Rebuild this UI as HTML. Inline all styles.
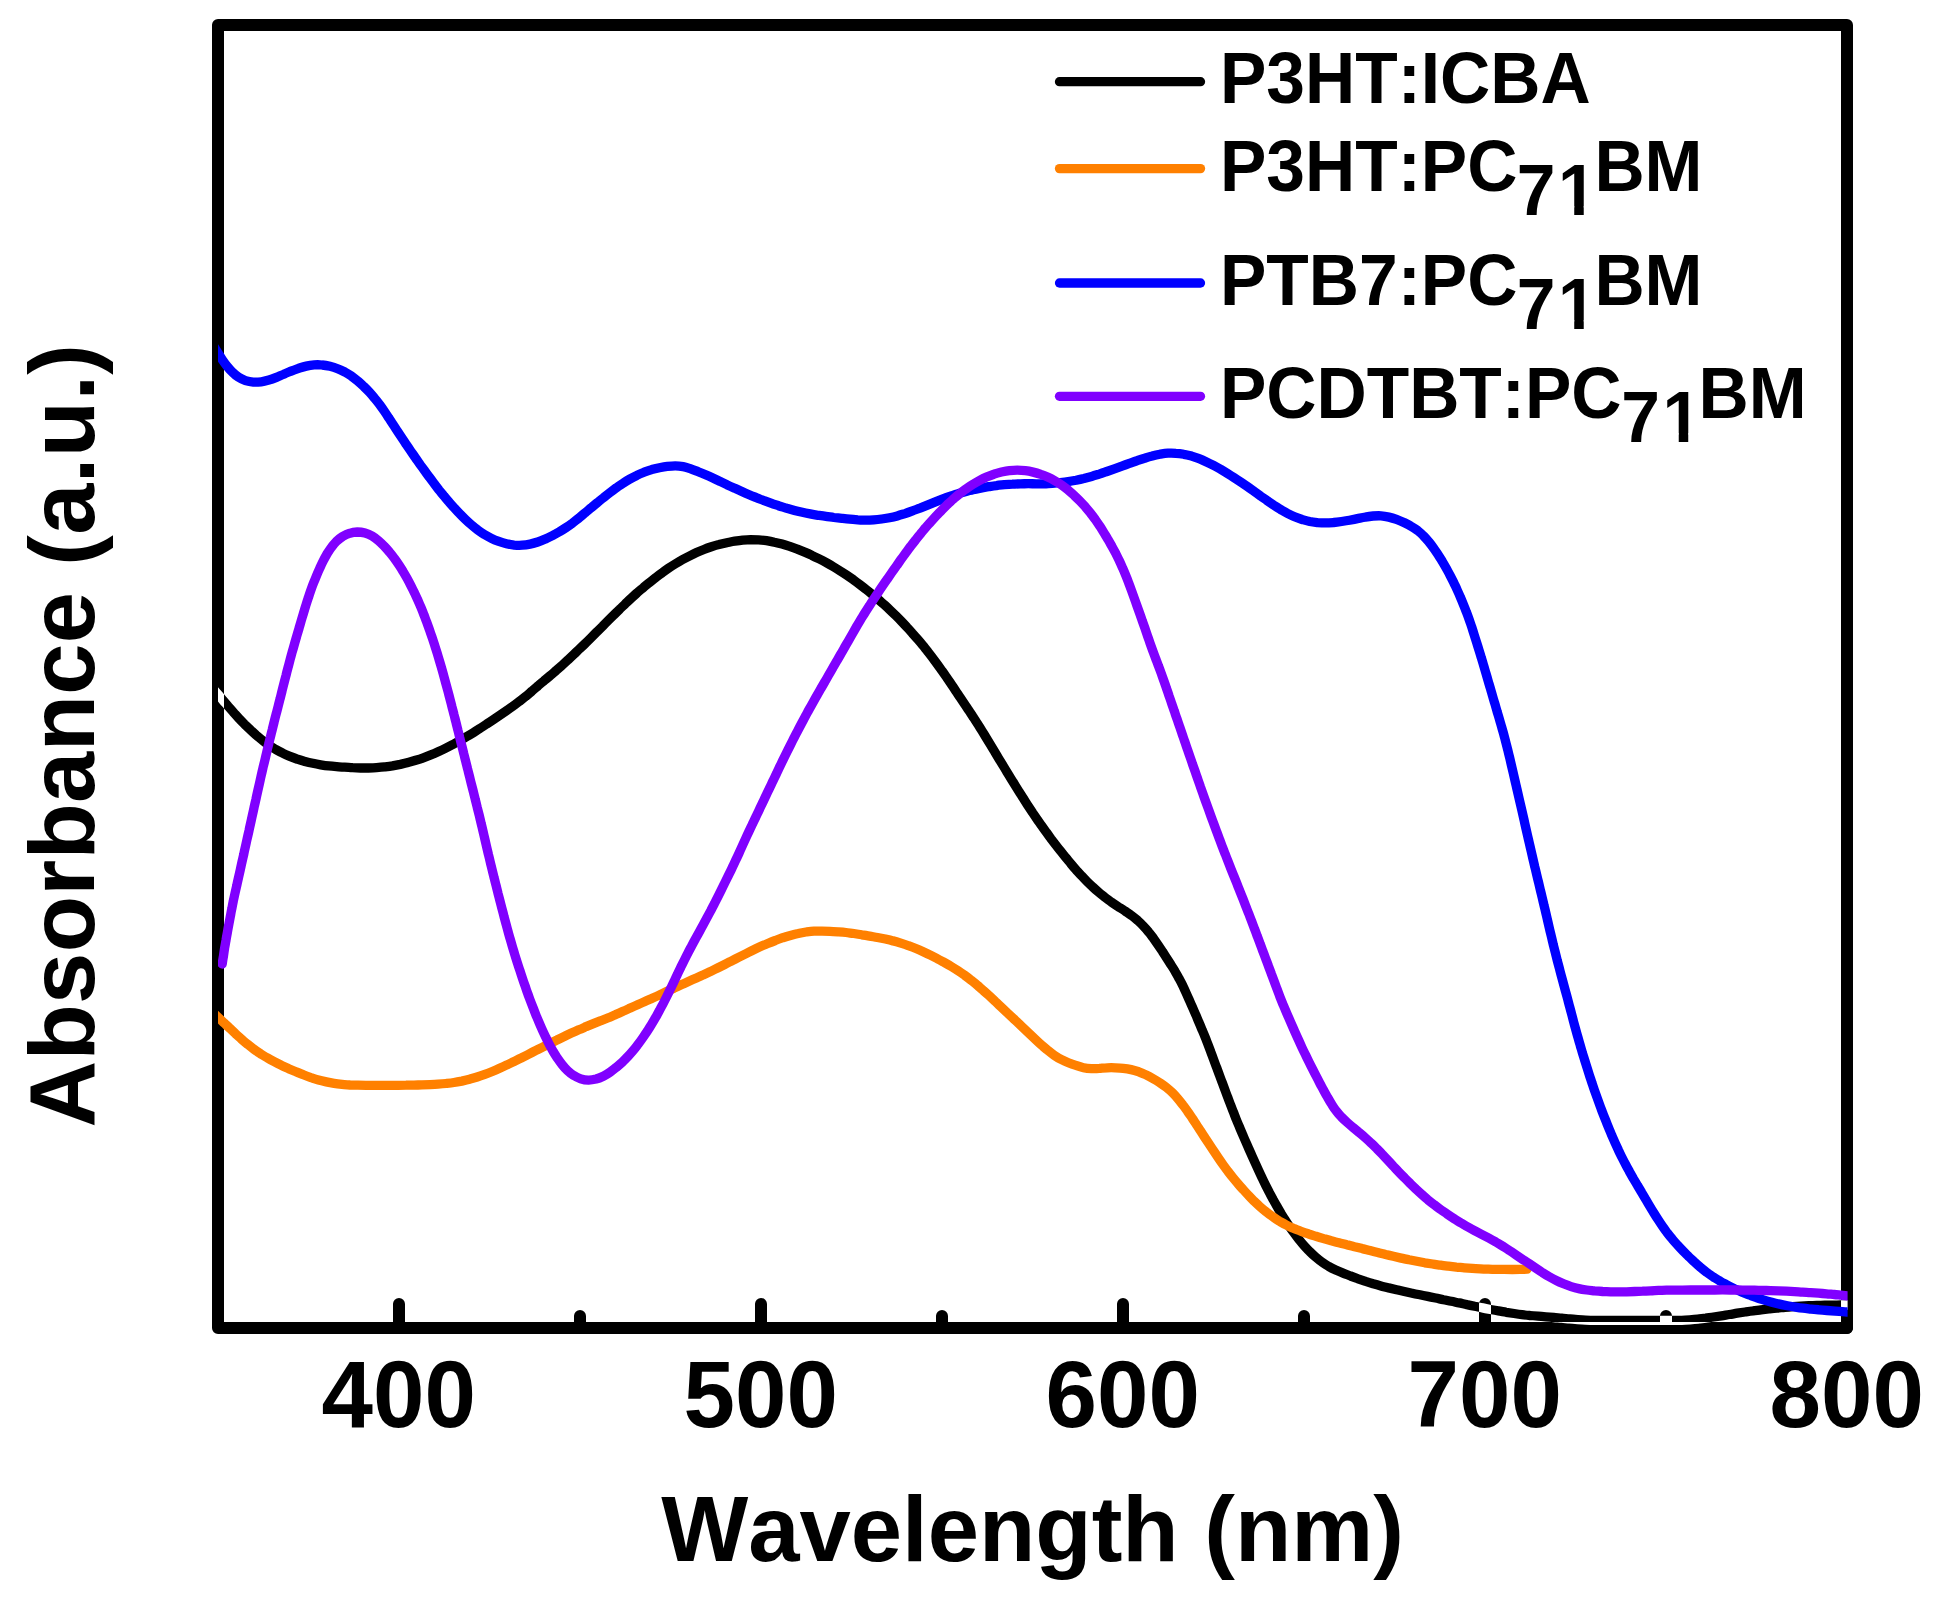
<!DOCTYPE html>
<html><head><meta charset="utf-8"><title>Absorbance spectra</title>
<style>
html,body{margin:0;padding:0;background:#fff}
body{width:1935px;height:1602px;overflow:hidden}
svg{display:block}
text{font-kerning:none;font-family:"Liberation Sans",Arial,Helvetica,sans-serif;font-weight:bold;fill:#000}
.lg{font-size:69.5px}
.tk{font-size:92.5px}
.ax{font-size:92.2px}
</style></head><body>
<svg width="1935" height="1602" viewBox="0 0 1935 1602">
<rect width="1935" height="1602" fill="#fff"/>
<defs><clipPath id="xr"><rect x="212" y="19" width="12" height="1315"/><rect x="1841" y="19" width="12" height="1315"/><rect x="212" y="1322" width="1641" height="12"/><rect x="393.0" y="1304" width="12" height="18"/><circle cx="399.0" cy="1304" r="6"/><rect x="755.0" y="1304" width="12" height="18"/><circle cx="761.0" cy="1304" r="6"/><rect x="1117.0" y="1304" width="12" height="18"/><circle cx="1123.0" cy="1304" r="6"/><rect x="1479.0" y="1304" width="12" height="18"/><circle cx="1485.0" cy="1304" r="6"/><rect x="574.0" y="1316" width="12" height="6"/><circle cx="580.0" cy="1316" r="6"/><rect x="936.0" y="1316" width="12" height="6"/><circle cx="942.0" cy="1316" r="6"/><rect x="1298.0" y="1316" width="12" height="6"/><circle cx="1304.0" cy="1316" r="6"/><rect x="1660.0" y="1316" width="12" height="6"/><circle cx="1666.0" cy="1316" r="6"/></clipPath><clipPath id="pa"><rect x="218" y="25" width="1629.6" height="1303"/></clipPath></defs>
<rect x="218" y="25" width="1629" height="1303" fill="none" stroke="#000" stroke-width="12" stroke-linejoin="round"/>
<path d="M399.0,1328V1304M761.0,1328V1304M1123.0,1328V1304M1485.0,1328V1304M1847.0,1328V1304M580.0,1328V1316M942.0,1328V1316M1304.0,1328V1316M1666.0,1328V1316" stroke="#000" stroke-width="12" stroke-linecap="round" fill="none"/>
<path d="M210.2,685.3C211.5,686.8 215.8,691.9 218.0,694.4C220.2,696.9 221.5,698.5 223.3,700.6C225.0,702.6 226.7,704.5 228.4,706.5C230.2,708.5 231.9,710.6 233.7,712.6C235.5,714.6 237.2,716.6 239.0,718.5C240.9,720.5 242.7,722.4 244.6,724.3C246.5,726.1 248.4,728.0 250.4,729.8C252.3,731.6 254.3,733.4 256.3,735.2C258.3,736.9 260.4,738.6 262.4,740.3C264.5,741.9 266.7,743.5 268.8,745.1C271.0,746.6 273.3,748.0 275.6,749.4C277.9,750.7 280.2,752.0 282.6,753.1C285.0,754.3 287.5,755.4 289.9,756.4C292.4,757.4 294.9,758.4 297.4,759.2C299.9,760.1 302.5,760.8 305.0,761.5C307.6,762.2 310.2,762.8 312.8,763.3C315.4,763.9 318.1,764.4 320.7,764.8C323.3,765.2 326.0,765.6 328.6,765.9C331.3,766.2 333.9,766.4 336.6,766.6C339.2,766.9 341.9,767.0 344.6,767.2C347.2,767.4 349.9,767.5 352.5,767.7C355.2,767.8 357.9,767.9 360.5,768.0C363.2,768.0 365.9,768.0 368.5,768.0C371.2,767.9 373.9,767.8 376.5,767.6C379.2,767.4 381.8,767.2 384.5,766.9C387.1,766.6 389.8,766.3 392.4,765.9C395.0,765.4 397.7,764.9 400.3,764.4C402.9,763.8 405.5,763.2 408.0,762.5C410.6,761.9 413.2,761.1 415.7,760.3C418.3,759.5 420.8,758.7 423.3,757.8C425.8,756.9 428.3,755.9 430.8,754.9C433.2,753.9 435.7,752.8 438.1,751.7C440.5,750.6 442.9,749.5 445.3,748.3C447.7,747.1 450.1,745.9 452.5,744.7C454.8,743.4 457.2,742.1 459.5,740.8C461.8,739.5 464.1,738.2 466.4,736.8C468.7,735.5 471.0,734.1 473.3,732.7C475.5,731.3 477.8,729.9 480.0,728.4C482.3,727.0 484.5,725.5 486.7,724.0C488.9,722.6 491.2,721.1 493.4,719.6C495.6,718.1 497.8,716.6 500.0,715.1C502.2,713.6 504.4,712.1 506.6,710.6C508.8,709.1 511.0,707.5 513.1,706.0C515.3,704.4 517.5,702.9 519.6,701.2C521.7,699.6 523.8,698.0 525.8,696.3C527.9,694.6 529.9,692.8 531.9,691.1C533.9,689.3 536.0,687.6 538.0,685.9C540.0,684.1 542.1,682.4 544.1,680.7C546.2,679.0 548.2,677.3 550.2,675.6C552.3,673.9 554.3,672.1 556.3,670.4C558.3,668.6 560.3,666.9 562.3,665.1C564.3,663.3 566.3,661.5 568.2,659.7C570.2,657.9 572.1,656.1 574.1,654.2C576.0,652.4 577.9,650.5 579.8,648.7C581.8,646.8 583.7,645.0 585.6,643.1C587.5,641.3 589.4,639.4 591.3,637.5C593.2,635.6 595.1,633.7 596.9,631.8C598.8,630.0 600.7,628.1 602.6,626.2C604.4,624.3 606.3,622.4 608.2,620.5C610.1,618.6 612.0,616.7 613.9,614.9C615.8,613.0 617.7,611.1 619.6,609.3C621.5,607.4 623.5,605.6 625.4,603.7C627.3,601.9 629.2,600.0 631.2,598.2C633.2,596.4 635.1,594.6 637.1,592.9C639.1,591.1 641.2,589.4 643.2,587.7C645.2,585.9 647.3,584.3 649.4,582.6C651.5,580.9 653.6,579.3 655.7,577.6C657.8,576.0 659.9,574.4 662.1,572.9C664.2,571.3 666.4,569.7 668.6,568.2C670.8,566.7 673.0,565.3 675.3,563.9C677.6,562.5 679.9,561.1 682.2,559.8C684.5,558.5 686.9,557.3 689.3,556.1C691.7,554.9 694.1,553.7 696.5,552.6C698.9,551.5 701.4,550.5 703.9,549.5C706.3,548.5 708.8,547.6 711.4,546.8C713.9,546.0 716.5,545.2 719.0,544.6C721.6,543.9 724.2,543.3 726.8,542.7C729.4,542.2 732.0,541.6 734.7,541.2C737.3,540.8 739.9,540.4 742.6,540.1C745.2,539.9 747.9,539.7 750.6,539.6C753.2,539.6 755.9,539.7 758.5,539.8C761.2,540.0 763.9,540.3 766.5,540.7C769.1,541.1 771.7,541.6 774.3,542.2C776.9,542.7 779.5,543.4 782.1,544.1C784.7,544.8 787.2,545.6 789.7,546.4C792.3,547.3 794.8,548.2 797.3,549.1C799.8,550.1 802.2,551.1 804.7,552.1C807.2,553.1 809.6,554.2 812.0,555.4C814.4,556.5 816.8,557.7 819.2,558.9C821.6,560.1 823.9,561.3 826.3,562.6C828.6,563.9 830.9,565.2 833.2,566.6C835.5,568.0 837.8,569.4 840.0,570.8C842.3,572.2 844.5,573.7 846.7,575.2C848.9,576.7 851.1,578.2 853.3,579.7C855.4,581.3 857.6,582.9 859.7,584.5C861.8,586.1 863.9,587.7 866.0,589.4C868.1,591.0 870.2,592.7 872.2,594.4C874.3,596.1 876.3,597.8 878.4,599.6C880.4,601.3 882.4,603.1 884.4,604.8C886.4,606.6 888.3,608.4 890.3,610.3C892.2,612.1 894.1,613.9 896.0,615.8C897.9,617.7 899.8,619.6 901.6,621.5C903.5,623.5 905.3,625.4 907.1,627.4C908.9,629.3 910.7,631.3 912.4,633.3C914.2,635.3 916.0,637.3 917.7,639.3C919.4,641.3 921.2,643.4 922.9,645.4C924.6,647.5 926.2,649.6 927.9,651.7C929.5,653.8 931.1,655.9 932.7,658.0C934.3,660.2 935.9,662.3 937.5,664.5C939.1,666.6 940.6,668.8 942.2,671.0C943.7,673.1 945.2,675.3 946.7,677.5C948.3,679.7 949.7,681.9 951.2,684.1C952.7,686.3 954.2,688.6 955.7,690.8C957.2,693.0 958.6,695.2 960.1,697.4C961.6,699.7 963.1,701.9 964.6,704.1C966.1,706.3 967.5,708.5 969.0,710.7C970.5,713.0 972.0,715.2 973.4,717.4C974.9,719.6 976.3,721.9 977.8,724.1C979.2,726.4 980.6,728.6 982.0,730.9C983.4,733.2 984.8,735.4 986.2,737.7C987.6,740.0 989.0,742.3 990.4,744.6C991.7,746.8 993.1,749.1 994.5,751.4C995.9,753.7 997.2,756.0 998.6,758.3C1000.0,760.5 1001.4,762.8 1002.8,765.1C1004.2,767.4 1005.5,769.7 1006.9,771.9C1008.3,774.2 1009.7,776.5 1011.1,778.8C1012.5,781.0 1013.9,783.3 1015.3,785.6C1016.7,787.8 1018.1,790.1 1019.5,792.4C1021.0,794.6 1022.4,796.9 1023.8,799.1C1025.2,801.4 1026.7,803.6 1028.1,805.9C1029.6,808.1 1031.1,810.3 1032.5,812.5C1034.0,814.7 1035.5,816.9 1037.0,819.1C1038.5,821.3 1040.1,823.5 1041.6,825.7C1043.1,827.9 1044.7,830.1 1046.3,832.2C1047.8,834.4 1049.4,836.5 1051.0,838.7C1052.6,840.8 1054.2,842.9 1055.8,845.0C1057.5,847.2 1059.1,849.3 1060.8,851.3C1062.4,853.4 1064.1,855.5 1065.8,857.6C1067.5,859.6 1069.2,861.7 1070.9,863.7C1072.6,865.8 1074.3,867.8 1076.1,869.8C1077.9,871.8 1079.6,873.8 1081.5,875.7C1083.3,877.7 1085.1,879.6 1087.0,881.5C1088.9,883.4 1090.8,885.2 1092.8,887.0C1094.7,888.8 1096.7,890.6 1098.7,892.3C1100.8,894.1 1102.9,895.7 1105.0,897.4C1107.1,899.0 1109.3,900.5 1111.4,902.1C1113.6,903.6 1115.8,905.1 1118.1,906.6C1120.3,908.0 1122.5,909.5 1124.8,910.9C1127.0,912.4 1129.2,913.8 1131.4,915.4C1133.5,917.0 1135.6,918.7 1137.6,920.4C1139.6,922.2 1141.5,924.0 1143.3,926.0C1145.2,927.9 1146.9,929.9 1148.6,932.0C1150.3,934.0 1151.9,936.2 1153.5,938.3C1155.0,940.5 1156.5,942.7 1158.0,944.9C1159.5,947.1 1161.0,949.3 1162.5,951.5C1163.9,953.8 1165.4,956.0 1166.8,958.2C1168.3,960.5 1169.7,962.7 1171.1,965.0C1172.6,967.2 1174.0,969.5 1175.3,971.8C1176.7,974.1 1178.0,976.4 1179.2,978.8C1180.5,981.1 1181.7,983.5 1182.9,985.9C1184.0,988.3 1185.1,990.7 1186.2,993.1C1187.3,995.6 1188.4,998.0 1189.5,1000.5C1190.5,1002.9 1191.6,1005.4 1192.7,1007.8C1193.7,1010.2 1194.8,1012.7 1195.9,1015.1C1196.9,1017.6 1198.0,1020.0 1199.0,1022.5C1200.1,1024.9 1201.1,1027.4 1202.1,1029.9C1203.2,1032.3 1204.2,1034.8 1205.2,1037.3C1206.2,1039.7 1207.1,1042.2 1208.1,1044.7C1209.1,1047.2 1210.0,1049.7 1210.9,1052.2C1211.9,1054.7 1212.8,1057.2 1213.7,1059.7C1214.6,1062.2 1215.5,1064.7 1216.5,1067.2C1217.4,1069.7 1218.3,1072.2 1219.3,1074.7C1220.2,1077.2 1221.1,1079.7 1222.1,1082.2C1223.0,1084.7 1223.9,1087.2 1224.9,1089.7C1225.8,1092.2 1226.7,1094.7 1227.7,1097.2C1228.6,1099.7 1229.6,1102.2 1230.5,1104.6C1231.5,1107.1 1232.4,1109.6 1233.4,1112.1C1234.4,1114.6 1235.3,1117.1 1236.3,1119.5C1237.3,1122.0 1238.4,1124.5 1239.4,1126.9C1240.4,1129.4 1241.5,1131.9 1242.5,1134.3C1243.6,1136.8 1244.6,1139.2 1245.7,1141.6C1246.8,1144.1 1247.9,1146.5 1248.9,1149.0C1250.0,1151.4 1251.1,1153.8 1252.2,1156.3C1253.3,1158.7 1254.4,1161.1 1255.5,1163.6C1256.6,1166.0 1257.7,1168.4 1258.8,1170.9C1259.9,1173.3 1261.0,1175.7 1262.2,1178.1C1263.3,1180.5 1264.5,1182.9 1265.7,1185.3C1266.9,1187.7 1268.1,1190.0 1269.3,1192.4C1270.6,1194.8 1271.8,1197.1 1273.1,1199.5C1274.4,1201.8 1275.7,1204.1 1277.0,1206.4C1278.3,1208.8 1279.7,1211.1 1281.0,1213.3C1282.4,1215.6 1283.8,1217.9 1285.3,1220.1C1286.7,1222.4 1288.2,1224.6 1289.7,1226.8C1291.2,1229.0 1292.7,1231.2 1294.3,1233.3C1295.9,1235.5 1297.5,1237.6 1299.2,1239.7C1300.8,1241.8 1302.5,1243.8 1304.3,1245.8C1306.1,1247.8 1307.9,1249.8 1309.8,1251.6C1311.7,1253.5 1313.6,1255.3 1315.6,1257.0C1317.7,1258.8 1319.7,1260.5 1321.9,1262.0C1324.1,1263.6 1326.3,1265.0 1328.6,1266.4C1330.9,1267.7 1333.3,1268.9 1335.7,1270.0C1338.1,1271.1 1340.6,1272.1 1343.1,1273.1C1345.5,1274.1 1348.0,1275.0 1350.5,1276.0C1353.0,1276.9 1355.5,1277.8 1358.0,1278.8C1360.5,1279.7 1363.1,1280.5 1365.6,1281.4C1368.1,1282.2 1370.7,1283.0 1373.2,1283.8C1375.8,1284.5 1378.3,1285.2 1380.9,1285.9C1383.5,1286.6 1386.1,1287.2 1388.7,1287.9C1391.3,1288.5 1393.9,1289.1 1396.5,1289.7C1399.1,1290.3 1401.7,1290.9 1404.3,1291.5C1406.9,1292.1 1409.5,1292.7 1412.1,1293.2C1414.7,1293.8 1417.3,1294.3 1419.9,1294.8C1422.5,1295.4 1425.1,1295.9 1427.7,1296.4C1430.4,1297.0 1433.0,1297.5 1435.6,1298.0C1438.2,1298.6 1440.8,1299.1 1443.4,1299.7C1446.0,1300.2 1448.6,1300.8 1451.2,1301.3C1453.9,1301.8 1456.5,1302.4 1459.1,1302.9C1461.7,1303.5 1464.3,1304.0 1466.9,1304.6C1469.5,1305.1 1472.1,1305.7 1474.7,1306.3C1477.3,1306.8 1479.9,1307.4 1482.6,1307.9C1485.2,1308.5 1487.8,1309.0 1490.4,1309.5C1493.0,1310.0 1495.6,1310.5 1498.3,1310.9C1500.9,1311.4 1503.5,1311.8 1506.2,1312.3C1508.8,1312.7 1511.4,1313.1 1514.1,1313.5C1516.7,1313.9 1519.3,1314.3 1522.0,1314.6C1524.6,1315.0 1527.3,1315.3 1529.9,1315.5C1532.6,1315.8 1535.2,1316.0 1537.9,1316.2C1540.6,1316.5 1543.2,1316.7 1545.9,1316.9C1548.5,1317.1 1551.2,1317.3 1553.8,1317.5C1556.5,1317.7 1559.2,1318.0 1561.8,1318.2C1564.5,1318.4 1567.1,1318.7 1569.8,1318.9C1572.4,1319.2 1575.1,1319.4 1577.8,1319.6C1580.4,1319.8 1583.1,1320.0 1585.7,1320.1C1588.4,1320.2 1591.1,1320.3 1593.7,1320.3C1596.4,1320.4 1599.1,1320.4 1601.7,1320.4C1604.4,1320.4 1607.1,1320.4 1609.7,1320.4C1612.4,1320.4 1615.1,1320.4 1617.7,1320.4C1620.4,1320.4 1623.1,1320.4 1625.7,1320.4C1628.4,1320.4 1631.1,1320.4 1633.7,1320.4C1636.4,1320.4 1639.1,1320.4 1641.7,1320.4C1644.4,1320.4 1647.1,1320.4 1649.7,1320.4C1652.4,1320.4 1655.1,1320.4 1657.7,1320.4C1660.4,1320.4 1663.1,1320.4 1665.7,1320.4C1668.4,1320.4 1671.1,1320.4 1673.7,1320.4C1676.4,1320.4 1679.1,1320.4 1681.7,1320.3C1684.4,1320.2 1687.1,1320.0 1689.7,1319.8C1692.4,1319.6 1695.0,1319.4 1697.7,1319.1C1700.3,1318.8 1703.0,1318.4 1705.6,1318.1C1708.3,1317.7 1710.9,1317.4 1713.5,1317.0C1716.2,1316.6 1718.8,1316.2 1721.4,1315.8C1724.1,1315.4 1726.7,1314.9 1729.3,1314.5C1732.0,1314.1 1734.6,1313.6 1737.2,1313.2C1739.9,1312.8 1742.5,1312.4 1745.1,1312.0C1747.8,1311.6 1750.4,1311.2 1753.1,1310.9C1755.7,1310.5 1758.3,1310.2 1761.0,1309.8C1763.6,1309.5 1766.3,1309.2 1768.9,1308.9C1771.6,1308.6 1774.2,1308.3 1776.9,1308.1C1779.5,1307.8 1782.2,1307.6 1784.9,1307.3C1787.5,1307.1 1790.2,1306.9 1792.8,1306.7C1795.5,1306.5 1798.2,1306.3 1800.8,1306.1C1803.5,1306.0 1806.1,1305.8 1808.8,1305.7C1811.5,1305.6 1814.1,1305.5 1816.8,1305.4C1819.5,1305.3 1822.1,1305.3 1824.8,1305.2C1827.5,1305.2 1830.2,1305.1 1832.8,1305.1C1835.4,1305.1 1838.1,1305.0 1840.5,1305.0C1842.9,1305.0 1844.8,1305.0 1847.2,1305.0C1849.7,1305.0 1853.9,1305.0 1855.2,1305.0" fill="none" stroke="#000000" stroke-width="9.3" stroke-linejoin="round" stroke-linecap="round" clip-path="url(#pa)"/>
<g clip-path="url(#pa)"><path d="M210.2,685.3C211.5,686.8 215.8,691.9 218.0,694.4C220.2,696.9 221.5,698.5 223.3,700.6C225.0,702.6 226.7,704.5 228.4,706.5C230.2,708.5 231.9,710.6 233.7,712.6C235.5,714.6 237.2,716.6 239.0,718.5C240.9,720.5 242.7,722.4 244.6,724.3C246.5,726.1 248.4,728.0 250.4,729.8C252.3,731.6 254.3,733.4 256.3,735.2C258.3,736.9 260.4,738.6 262.4,740.3C264.5,741.9 266.7,743.5 268.8,745.1C271.0,746.6 273.3,748.0 275.6,749.4C277.9,750.7 280.2,752.0 282.6,753.1C285.0,754.3 287.5,755.4 289.9,756.4C292.4,757.4 294.9,758.4 297.4,759.2C299.9,760.1 302.5,760.8 305.0,761.5C307.6,762.2 310.2,762.8 312.8,763.3C315.4,763.9 318.1,764.4 320.7,764.8C323.3,765.2 326.0,765.6 328.6,765.9C331.3,766.2 333.9,766.4 336.6,766.6C339.2,766.9 341.9,767.0 344.6,767.2C347.2,767.4 349.9,767.5 352.5,767.7C355.2,767.8 357.9,767.9 360.5,768.0C363.2,768.0 365.9,768.0 368.5,768.0C371.2,767.9 373.9,767.8 376.5,767.6C379.2,767.4 381.8,767.2 384.5,766.9C387.1,766.6 389.8,766.3 392.4,765.9C395.0,765.4 397.7,764.9 400.3,764.4C402.9,763.8 405.5,763.2 408.0,762.5C410.6,761.9 413.2,761.1 415.7,760.3C418.3,759.5 420.8,758.7 423.3,757.8C425.8,756.9 428.3,755.9 430.8,754.9C433.2,753.9 435.7,752.8 438.1,751.7C440.5,750.6 442.9,749.5 445.3,748.3C447.7,747.1 450.1,745.9 452.5,744.7C454.8,743.4 457.2,742.1 459.5,740.8C461.8,739.5 464.1,738.2 466.4,736.8C468.7,735.5 471.0,734.1 473.3,732.7C475.5,731.3 477.8,729.9 480.0,728.4C482.3,727.0 484.5,725.5 486.7,724.0C488.9,722.6 491.2,721.1 493.4,719.6C495.6,718.1 497.8,716.6 500.0,715.1C502.2,713.6 504.4,712.1 506.6,710.6C508.8,709.1 511.0,707.5 513.1,706.0C515.3,704.4 517.5,702.9 519.6,701.2C521.7,699.6 523.8,698.0 525.8,696.3C527.9,694.6 529.9,692.8 531.9,691.1C533.9,689.3 536.0,687.6 538.0,685.9C540.0,684.1 542.1,682.4 544.1,680.7C546.2,679.0 548.2,677.3 550.2,675.6C552.3,673.9 554.3,672.1 556.3,670.4C558.3,668.6 560.3,666.9 562.3,665.1C564.3,663.3 566.3,661.5 568.2,659.7C570.2,657.9 572.1,656.1 574.1,654.2C576.0,652.4 577.9,650.5 579.8,648.7C581.8,646.8 583.7,645.0 585.6,643.1C587.5,641.3 589.4,639.4 591.3,637.5C593.2,635.6 595.1,633.7 596.9,631.8C598.8,630.0 600.7,628.1 602.6,626.2C604.4,624.3 606.3,622.4 608.2,620.5C610.1,618.6 612.0,616.7 613.9,614.9C615.8,613.0 617.7,611.1 619.6,609.3C621.5,607.4 623.5,605.6 625.4,603.7C627.3,601.9 629.2,600.0 631.2,598.2C633.2,596.4 635.1,594.6 637.1,592.9C639.1,591.1 641.2,589.4 643.2,587.7C645.2,585.9 647.3,584.3 649.4,582.6C651.5,580.9 653.6,579.3 655.7,577.6C657.8,576.0 659.9,574.4 662.1,572.9C664.2,571.3 666.4,569.7 668.6,568.2C670.8,566.7 673.0,565.3 675.3,563.9C677.6,562.5 679.9,561.1 682.2,559.8C684.5,558.5 686.9,557.3 689.3,556.1C691.7,554.9 694.1,553.7 696.5,552.6C698.9,551.5 701.4,550.5 703.9,549.5C706.3,548.5 708.8,547.6 711.4,546.8C713.9,546.0 716.5,545.2 719.0,544.6C721.6,543.9 724.2,543.3 726.8,542.7C729.4,542.2 732.0,541.6 734.7,541.2C737.3,540.8 739.9,540.4 742.6,540.1C745.2,539.9 747.9,539.7 750.6,539.6C753.2,539.6 755.9,539.7 758.5,539.8C761.2,540.0 763.9,540.3 766.5,540.7C769.1,541.1 771.7,541.6 774.3,542.2C776.9,542.7 779.5,543.4 782.1,544.1C784.7,544.8 787.2,545.6 789.7,546.4C792.3,547.3 794.8,548.2 797.3,549.1C799.8,550.1 802.2,551.1 804.7,552.1C807.2,553.1 809.6,554.2 812.0,555.4C814.4,556.5 816.8,557.7 819.2,558.9C821.6,560.1 823.9,561.3 826.3,562.6C828.6,563.9 830.9,565.2 833.2,566.6C835.5,568.0 837.8,569.4 840.0,570.8C842.3,572.2 844.5,573.7 846.7,575.2C848.9,576.7 851.1,578.2 853.3,579.7C855.4,581.3 857.6,582.9 859.7,584.5C861.8,586.1 863.9,587.7 866.0,589.4C868.1,591.0 870.2,592.7 872.2,594.4C874.3,596.1 876.3,597.8 878.4,599.6C880.4,601.3 882.4,603.1 884.4,604.8C886.4,606.6 888.3,608.4 890.3,610.3C892.2,612.1 894.1,613.9 896.0,615.8C897.9,617.7 899.8,619.6 901.6,621.5C903.5,623.5 905.3,625.4 907.1,627.4C908.9,629.3 910.7,631.3 912.4,633.3C914.2,635.3 916.0,637.3 917.7,639.3C919.4,641.3 921.2,643.4 922.9,645.4C924.6,647.5 926.2,649.6 927.9,651.7C929.5,653.8 931.1,655.9 932.7,658.0C934.3,660.2 935.9,662.3 937.5,664.5C939.1,666.6 940.6,668.8 942.2,671.0C943.7,673.1 945.2,675.3 946.7,677.5C948.3,679.7 949.7,681.9 951.2,684.1C952.7,686.3 954.2,688.6 955.7,690.8C957.2,693.0 958.6,695.2 960.1,697.4C961.6,699.7 963.1,701.9 964.6,704.1C966.1,706.3 967.5,708.5 969.0,710.7C970.5,713.0 972.0,715.2 973.4,717.4C974.9,719.6 976.3,721.9 977.8,724.1C979.2,726.4 980.6,728.6 982.0,730.9C983.4,733.2 984.8,735.4 986.2,737.7C987.6,740.0 989.0,742.3 990.4,744.6C991.7,746.8 993.1,749.1 994.5,751.4C995.9,753.7 997.2,756.0 998.6,758.3C1000.0,760.5 1001.4,762.8 1002.8,765.1C1004.2,767.4 1005.5,769.7 1006.9,771.9C1008.3,774.2 1009.7,776.5 1011.1,778.8C1012.5,781.0 1013.9,783.3 1015.3,785.6C1016.7,787.8 1018.1,790.1 1019.5,792.4C1021.0,794.6 1022.4,796.9 1023.8,799.1C1025.2,801.4 1026.7,803.6 1028.1,805.9C1029.6,808.1 1031.1,810.3 1032.5,812.5C1034.0,814.7 1035.5,816.9 1037.0,819.1C1038.5,821.3 1040.1,823.5 1041.6,825.7C1043.1,827.9 1044.7,830.1 1046.3,832.2C1047.8,834.4 1049.4,836.5 1051.0,838.7C1052.6,840.8 1054.2,842.9 1055.8,845.0C1057.5,847.2 1059.1,849.3 1060.8,851.3C1062.4,853.4 1064.1,855.5 1065.8,857.6C1067.5,859.6 1069.2,861.7 1070.9,863.7C1072.6,865.8 1074.3,867.8 1076.1,869.8C1077.9,871.8 1079.6,873.8 1081.5,875.7C1083.3,877.7 1085.1,879.6 1087.0,881.5C1088.9,883.4 1090.8,885.2 1092.8,887.0C1094.7,888.8 1096.7,890.6 1098.7,892.3C1100.8,894.1 1102.9,895.7 1105.0,897.4C1107.1,899.0 1109.3,900.5 1111.4,902.1C1113.6,903.6 1115.8,905.1 1118.1,906.6C1120.3,908.0 1122.5,909.5 1124.8,910.9C1127.0,912.4 1129.2,913.8 1131.4,915.4C1133.5,917.0 1135.6,918.7 1137.6,920.4C1139.6,922.2 1141.5,924.0 1143.3,926.0C1145.2,927.9 1146.9,929.9 1148.6,932.0C1150.3,934.0 1151.9,936.2 1153.5,938.3C1155.0,940.5 1156.5,942.7 1158.0,944.9C1159.5,947.1 1161.0,949.3 1162.5,951.5C1163.9,953.8 1165.4,956.0 1166.8,958.2C1168.3,960.5 1169.7,962.7 1171.1,965.0C1172.6,967.2 1174.0,969.5 1175.3,971.8C1176.7,974.1 1178.0,976.4 1179.2,978.8C1180.5,981.1 1181.7,983.5 1182.9,985.9C1184.0,988.3 1185.1,990.7 1186.2,993.1C1187.3,995.6 1188.4,998.0 1189.5,1000.5C1190.5,1002.9 1191.6,1005.4 1192.7,1007.8C1193.7,1010.2 1194.8,1012.7 1195.9,1015.1C1196.9,1017.6 1198.0,1020.0 1199.0,1022.5C1200.1,1024.9 1201.1,1027.4 1202.1,1029.9C1203.2,1032.3 1204.2,1034.8 1205.2,1037.3C1206.2,1039.7 1207.1,1042.2 1208.1,1044.7C1209.1,1047.2 1210.0,1049.7 1210.9,1052.2C1211.9,1054.7 1212.8,1057.2 1213.7,1059.7C1214.6,1062.2 1215.5,1064.7 1216.5,1067.2C1217.4,1069.7 1218.3,1072.2 1219.3,1074.7C1220.2,1077.2 1221.1,1079.7 1222.1,1082.2C1223.0,1084.7 1223.9,1087.2 1224.9,1089.7C1225.8,1092.2 1226.7,1094.7 1227.7,1097.2C1228.6,1099.7 1229.6,1102.2 1230.5,1104.6C1231.5,1107.1 1232.4,1109.6 1233.4,1112.1C1234.4,1114.6 1235.3,1117.1 1236.3,1119.5C1237.3,1122.0 1238.4,1124.5 1239.4,1126.9C1240.4,1129.4 1241.5,1131.9 1242.5,1134.3C1243.6,1136.8 1244.6,1139.2 1245.7,1141.6C1246.8,1144.1 1247.9,1146.5 1248.9,1149.0C1250.0,1151.4 1251.1,1153.8 1252.2,1156.3C1253.3,1158.7 1254.4,1161.1 1255.5,1163.6C1256.6,1166.0 1257.7,1168.4 1258.8,1170.9C1259.9,1173.3 1261.0,1175.7 1262.2,1178.1C1263.3,1180.5 1264.5,1182.9 1265.7,1185.3C1266.9,1187.7 1268.1,1190.0 1269.3,1192.4C1270.6,1194.8 1271.8,1197.1 1273.1,1199.5C1274.4,1201.8 1275.7,1204.1 1277.0,1206.4C1278.3,1208.8 1279.7,1211.1 1281.0,1213.3C1282.4,1215.6 1283.8,1217.9 1285.3,1220.1C1286.7,1222.4 1288.2,1224.6 1289.7,1226.8C1291.2,1229.0 1292.7,1231.2 1294.3,1233.3C1295.9,1235.5 1297.5,1237.6 1299.2,1239.7C1300.8,1241.8 1302.5,1243.8 1304.3,1245.8C1306.1,1247.8 1307.9,1249.8 1309.8,1251.6C1311.7,1253.5 1313.6,1255.3 1315.6,1257.0C1317.7,1258.8 1319.7,1260.5 1321.9,1262.0C1324.1,1263.6 1326.3,1265.0 1328.6,1266.4C1330.9,1267.7 1333.3,1268.9 1335.7,1270.0C1338.1,1271.1 1340.6,1272.1 1343.1,1273.1C1345.5,1274.1 1348.0,1275.0 1350.5,1276.0C1353.0,1276.9 1355.5,1277.8 1358.0,1278.8C1360.5,1279.7 1363.1,1280.5 1365.6,1281.4C1368.1,1282.2 1370.7,1283.0 1373.2,1283.8C1375.8,1284.5 1378.3,1285.2 1380.9,1285.9C1383.5,1286.6 1386.1,1287.2 1388.7,1287.9C1391.3,1288.5 1393.9,1289.1 1396.5,1289.7C1399.1,1290.3 1401.7,1290.9 1404.3,1291.5C1406.9,1292.1 1409.5,1292.7 1412.1,1293.2C1414.7,1293.8 1417.3,1294.3 1419.9,1294.8C1422.5,1295.4 1425.1,1295.9 1427.7,1296.4C1430.4,1297.0 1433.0,1297.5 1435.6,1298.0C1438.2,1298.6 1440.8,1299.1 1443.4,1299.7C1446.0,1300.2 1448.6,1300.8 1451.2,1301.3C1453.9,1301.8 1456.5,1302.4 1459.1,1302.9C1461.7,1303.5 1464.3,1304.0 1466.9,1304.6C1469.5,1305.1 1472.1,1305.7 1474.7,1306.3C1477.3,1306.8 1479.9,1307.4 1482.6,1307.9C1485.2,1308.5 1487.8,1309.0 1490.4,1309.5C1493.0,1310.0 1495.6,1310.5 1498.3,1310.9C1500.9,1311.4 1503.5,1311.8 1506.2,1312.3C1508.8,1312.7 1511.4,1313.1 1514.1,1313.5C1516.7,1313.9 1519.3,1314.3 1522.0,1314.6C1524.6,1315.0 1527.3,1315.3 1529.9,1315.5C1532.6,1315.8 1535.2,1316.0 1537.9,1316.2C1540.6,1316.5 1543.2,1316.7 1545.9,1316.9C1548.5,1317.1 1551.2,1317.3 1553.8,1317.5C1556.5,1317.7 1559.2,1318.0 1561.8,1318.2C1564.5,1318.4 1567.1,1318.7 1569.8,1318.9C1572.4,1319.2 1575.1,1319.4 1577.8,1319.6C1580.4,1319.8 1583.1,1320.0 1585.7,1320.1C1588.4,1320.2 1591.1,1320.3 1593.7,1320.3C1596.4,1320.4 1599.1,1320.4 1601.7,1320.4C1604.4,1320.4 1607.1,1320.4 1609.7,1320.4C1612.4,1320.4 1615.1,1320.4 1617.7,1320.4C1620.4,1320.4 1623.1,1320.4 1625.7,1320.4C1628.4,1320.4 1631.1,1320.4 1633.7,1320.4C1636.4,1320.4 1639.1,1320.4 1641.7,1320.4C1644.4,1320.4 1647.1,1320.4 1649.7,1320.4C1652.4,1320.4 1655.1,1320.4 1657.7,1320.4C1660.4,1320.4 1663.1,1320.4 1665.7,1320.4C1668.4,1320.4 1671.1,1320.4 1673.7,1320.4C1676.4,1320.4 1679.1,1320.4 1681.7,1320.3C1684.4,1320.2 1687.1,1320.0 1689.7,1319.8C1692.4,1319.6 1695.0,1319.4 1697.7,1319.1C1700.3,1318.8 1703.0,1318.4 1705.6,1318.1C1708.3,1317.7 1710.9,1317.4 1713.5,1317.0C1716.2,1316.6 1718.8,1316.2 1721.4,1315.8C1724.1,1315.4 1726.7,1314.9 1729.3,1314.5C1732.0,1314.1 1734.6,1313.6 1737.2,1313.2C1739.9,1312.8 1742.5,1312.4 1745.1,1312.0C1747.8,1311.6 1750.4,1311.2 1753.1,1310.9C1755.7,1310.5 1758.3,1310.2 1761.0,1309.8C1763.6,1309.5 1766.3,1309.2 1768.9,1308.9C1771.6,1308.6 1774.2,1308.3 1776.9,1308.1C1779.5,1307.8 1782.2,1307.6 1784.9,1307.3C1787.5,1307.1 1790.2,1306.9 1792.8,1306.7C1795.5,1306.5 1798.2,1306.3 1800.8,1306.1C1803.5,1306.0 1806.1,1305.8 1808.8,1305.7C1811.5,1305.6 1814.1,1305.5 1816.8,1305.4C1819.5,1305.3 1822.1,1305.3 1824.8,1305.2C1827.5,1305.2 1830.2,1305.1 1832.8,1305.1C1835.4,1305.1 1838.1,1305.0 1840.5,1305.0C1842.9,1305.0 1844.8,1305.0 1847.2,1305.0C1849.7,1305.0 1853.9,1305.0 1855.2,1305.0" fill="none" stroke="#fff" stroke-width="9.3" clip-path="url(#xr)"/></g>
<path d="M209.3,1009.0C210.7,1010.4 215.6,1015.0 218.0,1017.2C220.4,1019.5 222.0,1021.0 223.9,1022.8C225.9,1024.6 227.7,1026.4 229.7,1028.2C231.6,1030.0 233.6,1031.9 235.5,1033.7C237.5,1035.5 239.4,1037.3 241.4,1039.1C243.4,1040.8 245.4,1042.6 247.5,1044.2C249.6,1045.9 251.7,1047.6 253.8,1049.1C256.0,1050.7 258.2,1052.2 260.4,1053.7C262.7,1055.1 264.9,1056.5 267.2,1057.8C269.5,1059.2 271.9,1060.5 274.2,1061.7C276.6,1063.0 279.0,1064.2 281.4,1065.3C283.7,1066.5 286.2,1067.6 288.6,1068.7C291.0,1069.8 293.5,1070.8 296.0,1071.8C298.4,1072.9 300.9,1073.8 303.4,1074.8C305.9,1075.8 308.4,1076.7 310.9,1077.6C313.4,1078.4 316.0,1079.3 318.5,1080.0C321.1,1080.7 323.7,1081.3 326.3,1081.9C328.9,1082.5 331.5,1083.0 334.1,1083.4C336.8,1083.8 339.4,1084.1 342.1,1084.4C344.7,1084.7 347.4,1084.8 350.0,1085.0C352.7,1085.1 355.4,1085.1 358.0,1085.2C360.7,1085.3 363.4,1085.3 366.0,1085.3C368.7,1085.3 371.4,1085.4 374.0,1085.4C376.7,1085.4 379.4,1085.4 382.0,1085.4C384.7,1085.4 387.4,1085.4 390.0,1085.3C392.7,1085.3 395.4,1085.3 398.0,1085.3C400.7,1085.2 403.4,1085.2 406.0,1085.2C408.7,1085.1 411.4,1085.1 414.0,1085.1C416.7,1085.0 419.4,1085.0 422.0,1084.9C424.7,1084.8 427.4,1084.7 430.0,1084.6C432.7,1084.5 435.4,1084.4 438.0,1084.2C440.7,1084.0 443.3,1083.8 446.0,1083.5C448.6,1083.2 451.3,1082.9 453.9,1082.5C456.5,1082.1 459.2,1081.6 461.8,1081.1C464.4,1080.5 467.0,1079.9 469.6,1079.2C472.1,1078.5 474.7,1077.8 477.2,1077.0C479.8,1076.2 482.3,1075.3 484.8,1074.4C487.3,1073.5 489.8,1072.5 492.3,1071.5C494.7,1070.5 497.2,1069.4 499.6,1068.3C502.0,1067.2 504.4,1066.1 506.8,1064.9C509.3,1063.8 511.7,1062.6 514.1,1061.5C516.5,1060.3 518.8,1059.1 521.2,1058.0C523.6,1056.8 526.0,1055.6 528.4,1054.4C530.8,1053.2 533.1,1052.0 535.5,1050.7C537.9,1049.5 540.3,1048.3 542.7,1047.1C545.0,1045.9 547.4,1044.7 549.8,1043.5C552.2,1042.3 554.6,1041.1 557.0,1040.0C559.4,1038.8 561.8,1037.6 564.2,1036.5C566.6,1035.3 569.0,1034.2 571.4,1033.1C573.8,1032.0 576.3,1030.9 578.7,1029.8C581.2,1028.8 583.6,1027.7 586.1,1026.6C588.5,1025.6 591.0,1024.6 593.4,1023.6C595.9,1022.6 598.4,1021.6 600.9,1020.7C603.4,1019.7 605.8,1018.7 608.3,1017.7C610.8,1016.7 613.2,1015.6 615.7,1014.6C618.1,1013.5 620.6,1012.4 623.0,1011.3C625.4,1010.3 627.9,1009.1 630.3,1008.0C632.7,1006.9 635.1,1005.8 637.6,1004.7C640.0,1003.6 642.4,1002.5 644.9,1001.4C647.3,1000.4 649.7,999.3 652.2,998.2C654.6,997.1 657.0,996.0 659.5,994.9C661.9,993.8 664.3,992.7 666.7,991.5C669.1,990.4 671.6,989.3 674.0,988.2C676.4,987.0 678.8,985.9 681.2,984.8C683.7,983.7 686.1,982.6 688.5,981.5C690.9,980.4 693.4,979.3 695.8,978.2C698.3,977.1 700.7,976.1 703.1,974.9C705.5,973.8 708.0,972.7 710.4,971.6C712.8,970.4 715.2,969.2 717.6,968.0C719.9,966.9 722.3,965.7 724.7,964.5C727.1,963.3 729.5,962.0 731.8,960.8C734.2,959.6 736.6,958.4 739.0,957.2C741.3,956.0 743.7,954.8 746.1,953.6C748.5,952.4 750.8,951.2 753.3,950.0C755.7,948.8 758.1,947.7 760.5,946.6C762.9,945.5 765.4,944.5 767.8,943.5C770.3,942.4 772.8,941.4 775.3,940.5C777.8,939.5 780.3,938.6 782.8,937.7C785.3,936.9 787.9,936.1 790.4,935.4C793.0,934.7 795.6,934.0 798.2,933.5C800.8,932.9 803.4,932.4 806.0,932.0C808.7,931.7 811.3,931.4 814.0,931.2C816.6,931.1 819.3,931.1 822.0,931.1C824.6,931.1 827.3,931.2 830.0,931.3C832.6,931.4 835.3,931.6 838.0,931.8C840.6,932.0 843.3,932.2 845.9,932.5C848.6,932.8 851.2,933.2 853.8,933.5C856.5,933.9 859.1,934.3 861.8,934.8C864.4,935.2 867.0,935.7 869.6,936.1C872.3,936.6 874.9,937.0 877.5,937.5C880.1,938.0 882.8,938.5 885.4,939.0C888.0,939.6 890.6,940.2 893.1,940.9C895.7,941.5 898.3,942.3 900.8,943.1C903.4,943.9 905.9,944.7 908.4,945.7C910.9,946.6 913.4,947.5 915.9,948.5C918.3,949.5 920.8,950.6 923.2,951.7C925.6,952.8 928.0,953.9 930.4,955.1C932.8,956.3 935.2,957.5 937.5,958.8C939.9,960.0 942.2,961.3 944.6,962.6C946.9,963.9 949.2,965.2 951.5,966.6C953.8,968.0 956.0,969.4 958.3,970.9C960.5,972.3 962.7,973.9 964.8,975.4C967.0,977.0 969.1,978.6 971.2,980.3C973.3,981.9 975.3,983.6 977.4,985.3C979.4,987.1 981.4,988.8 983.4,990.6C985.4,992.3 987.4,994.1 989.4,995.9C991.3,997.7 993.3,999.6 995.2,1001.4C997.2,1003.2 999.1,1005.1 1001.0,1006.9C1002.9,1008.7 1004.9,1010.6 1006.8,1012.4C1008.8,1014.2 1010.7,1016.0 1012.7,1017.9C1014.6,1019.7 1016.6,1021.5 1018.5,1023.3C1020.4,1025.2 1022.4,1027.0 1024.3,1028.8C1026.3,1030.7 1028.2,1032.5 1030.1,1034.3C1032.1,1036.2 1034.0,1038.0 1035.9,1039.8C1037.9,1041.7 1039.8,1043.5 1041.8,1045.3C1043.8,1047.0 1045.8,1048.8 1047.9,1050.4C1050.0,1052.1 1052.1,1053.8 1054.3,1055.3C1056.5,1056.8 1058.7,1058.2 1061.1,1059.4C1063.4,1060.6 1065.9,1061.7 1068.4,1062.7C1070.8,1063.7 1073.3,1064.6 1075.9,1065.4C1078.4,1066.3 1080.9,1067.2 1083.5,1067.7C1086.1,1068.3 1088.7,1068.6 1091.3,1068.7C1094.0,1068.8 1096.6,1068.5 1099.3,1068.4C1102.0,1068.2 1104.6,1067.9 1107.3,1067.8C1109.9,1067.7 1112.6,1067.7 1115.3,1067.8C1117.9,1067.9 1120.6,1068.0 1123.2,1068.3C1125.9,1068.6 1128.5,1069.0 1131.1,1069.6C1133.7,1070.2 1136.3,1071.0 1138.8,1071.8C1141.3,1072.7 1143.7,1073.8 1146.1,1074.9C1148.5,1076.1 1150.9,1077.4 1153.2,1078.7C1155.5,1080.0 1157.8,1081.4 1160.0,1082.8C1162.2,1084.3 1164.4,1085.8 1166.5,1087.5C1168.6,1089.2 1170.6,1090.9 1172.5,1092.8C1174.3,1094.6 1176.1,1096.6 1177.9,1098.7C1179.6,1100.7 1181.2,1102.8 1182.8,1104.9C1184.5,1107.0 1186.0,1109.2 1187.6,1111.4C1189.1,1113.5 1190.6,1115.8 1192.1,1118.0C1193.5,1120.2 1195.0,1122.4 1196.5,1124.7C1197.9,1126.9 1199.4,1129.1 1200.8,1131.3C1202.3,1133.6 1203.7,1135.8 1205.2,1138.1C1206.7,1140.3 1208.1,1142.5 1209.6,1144.8C1211.0,1147.0 1212.5,1149.2 1214.0,1151.4C1215.5,1153.7 1217.0,1155.9 1218.5,1158.1C1220.0,1160.3 1221.5,1162.5 1223.0,1164.6C1224.6,1166.8 1226.1,1169.0 1227.8,1171.1C1229.4,1173.2 1231.0,1175.3 1232.7,1177.4C1234.4,1179.5 1236.1,1181.5 1237.8,1183.5C1239.5,1185.6 1241.3,1187.6 1243.1,1189.5C1244.9,1191.5 1246.7,1193.5 1248.5,1195.4C1250.3,1197.4 1252.2,1199.3 1254.1,1201.2C1256.0,1203.0 1257.9,1204.8 1259.9,1206.6C1261.9,1208.4 1264.0,1210.1 1266.1,1211.7C1268.1,1213.4 1270.3,1215.0 1272.5,1216.5C1274.6,1218.1 1276.8,1219.6 1279.1,1221.0C1281.4,1222.3 1283.7,1223.7 1286.1,1224.9C1288.4,1226.1 1290.9,1227.2 1293.3,1228.3C1295.8,1229.3 1298.3,1230.2 1300.8,1231.2C1303.2,1232.1 1305.8,1233.0 1308.3,1233.8C1310.8,1234.7 1313.4,1235.5 1315.9,1236.3C1318.5,1237.1 1321.0,1237.8 1323.6,1238.6C1326.1,1239.3 1328.7,1240.0 1331.3,1240.8C1333.8,1241.5 1336.4,1242.1 1339.0,1242.8C1341.6,1243.5 1344.2,1244.1 1346.8,1244.8C1349.3,1245.4 1351.9,1246.0 1354.5,1246.7C1357.1,1247.3 1359.7,1247.9 1362.3,1248.6C1364.9,1249.2 1367.5,1249.9 1370.0,1250.5C1372.6,1251.2 1375.2,1251.9 1377.8,1252.5C1380.4,1253.2 1383.0,1253.8 1385.6,1254.5C1388.2,1255.1 1390.7,1255.7 1393.3,1256.3C1395.9,1256.9 1398.5,1257.5 1401.1,1258.1C1403.8,1258.7 1406.4,1259.2 1409.0,1259.8C1411.6,1260.3 1414.2,1260.8 1416.8,1261.3C1419.4,1261.8 1422.1,1262.3 1424.7,1262.8C1427.3,1263.2 1429.9,1263.6 1432.6,1264.0C1435.2,1264.5 1437.9,1264.8 1440.5,1265.2C1443.1,1265.6 1445.8,1265.9 1448.4,1266.2C1451.1,1266.5 1453.7,1266.8 1456.4,1267.1C1459.0,1267.3 1461.7,1267.6 1464.3,1267.8C1467.0,1268.0 1469.7,1268.2 1472.3,1268.4C1475.0,1268.6 1477.6,1268.7 1480.3,1268.8C1483.0,1269.0 1485.6,1269.1 1488.3,1269.2C1491.0,1269.3 1493.6,1269.3 1496.3,1269.4C1499.0,1269.4 1501.6,1269.4 1504.3,1269.4C1507.0,1269.5 1509.7,1269.5 1512.3,1269.5C1514.9,1269.5 1517.6,1269.5 1520.0,1269.4C1522.5,1269.4 1525.8,1269.3 1527.0,1269.2" fill="none" stroke="#FF8000" stroke-width="9.3" stroke-linejoin="round" stroke-linecap="round" clip-path="url(#pa)"/>
<path d="M211.6,342.8C212.7,344.5 216.2,350.2 218.0,353.0C219.8,355.8 220.9,357.6 222.4,359.8C223.9,362.0 225.4,364.1 227.1,366.2C228.7,368.2 230.5,370.3 232.4,372.1C234.2,373.9 236.3,375.7 238.5,377.2C240.6,378.6 243.1,379.8 245.5,380.6C248.0,381.4 250.7,381.9 253.3,382.1C255.9,382.3 258.5,382.1 261.2,381.8C263.8,381.5 266.4,380.8 268.9,380.1C271.5,379.4 274.0,378.4 276.4,377.4C278.9,376.4 281.3,375.2 283.8,374.2C286.2,373.1 288.7,372.1 291.1,371.1C293.6,370.1 296.1,369.2 298.6,368.3C301.2,367.5 303.7,366.7 306.3,366.1C308.9,365.5 311.5,365.1 314.2,364.9C316.8,364.7 319.5,364.7 322.1,365.0C324.7,365.2 327.4,365.7 330.0,366.3C332.5,366.9 335.1,367.7 337.6,368.7C340.0,369.6 342.4,370.8 344.8,372.0C347.1,373.3 349.4,374.7 351.6,376.2C353.7,377.8 355.8,379.4 357.9,381.1C359.9,382.8 361.9,384.6 363.8,386.5C365.7,388.3 367.6,390.2 369.4,392.2C371.2,394.2 372.9,396.2 374.6,398.3C376.3,400.3 378.0,402.4 379.6,404.5C381.2,406.7 382.7,408.8 384.2,411.0C385.7,413.2 387.2,415.5 388.6,417.7C390.1,419.9 391.5,422.2 393.0,424.4C394.5,426.6 395.9,428.9 397.4,431.1C398.9,433.3 400.3,435.5 401.8,437.8C403.3,440.0 404.8,442.2 406.2,444.4C407.7,446.6 409.2,448.8 410.7,451.0C412.2,453.2 413.8,455.4 415.3,457.6C416.8,459.8 418.4,462.0 419.9,464.2C421.5,466.3 423.0,468.5 424.6,470.6C426.1,472.8 427.7,475.0 429.3,477.1C430.9,479.3 432.5,481.4 434.1,483.5C435.7,485.7 437.3,487.8 438.9,489.9C440.6,492.0 442.3,494.0 444.0,496.1C445.7,498.1 447.4,500.2 449.2,502.2C450.9,504.2 452.7,506.2 454.5,508.1C456.3,510.1 458.1,512.1 460.0,514.0C461.8,515.9 463.7,517.8 465.6,519.6C467.6,521.5 469.5,523.3 471.6,525.0C473.6,526.7 475.7,528.4 477.8,530.0C479.9,531.5 482.1,533.1 484.4,534.5C486.7,535.8 489.0,537.1 491.4,538.3C493.8,539.5 496.3,540.5 498.8,541.4C501.2,542.3 503.8,543.1 506.4,543.7C509.0,544.3 511.6,544.8 514.2,545.1C516.9,545.3 519.5,545.4 522.2,545.2C524.8,545.0 527.5,544.6 530.1,544.1C532.7,543.6 535.2,542.9 537.8,542.0C540.3,541.2 542.8,540.2 545.2,539.1C547.6,538.1 550.0,536.9 552.4,535.7C554.8,534.4 557.1,533.1 559.4,531.8C561.7,530.4 563.9,529.0 566.2,527.5C568.4,526.0 570.5,524.5 572.7,522.9C574.8,521.3 576.9,519.6 579.0,518.0C581.0,516.3 583.1,514.5 585.1,512.8C587.2,511.1 589.2,509.4 591.3,507.7C593.3,506.0 595.4,504.3 597.4,502.6C599.5,500.9 601.5,499.2 603.6,497.6C605.7,495.9 607.8,494.2 609.9,492.6C612.0,491.0 614.2,489.4 616.3,487.8C618.5,486.3 620.7,484.7 622.9,483.3C625.1,481.8 627.4,480.4 629.7,479.1C632.0,477.8 634.4,476.5 636.8,475.4C639.2,474.2 641.6,473.2 644.1,472.2C646.6,471.3 649.1,470.4 651.7,469.6C654.2,468.9 656.8,468.3 659.4,467.7C662.0,467.2 664.7,466.7 667.3,466.4C669.9,466.1 672.6,465.8 675.2,465.8C677.9,465.8 680.5,466.1 683.1,466.6C685.7,467.1 688.2,468.0 690.7,468.8C693.3,469.7 695.7,470.7 698.2,471.7C700.7,472.7 703.1,473.7 705.6,474.8C708.0,475.8 710.5,476.9 712.9,478.0C715.3,479.1 717.7,480.3 720.1,481.4C722.5,482.6 724.9,483.7 727.3,484.9C729.8,486.0 732.2,487.1 734.6,488.2C737.0,489.4 739.5,490.4 741.9,491.5C744.3,492.6 746.8,493.7 749.2,494.7C751.7,495.8 754.2,496.8 756.6,497.8C759.1,498.8 761.6,499.7 764.1,500.7C766.6,501.6 769.1,502.5 771.6,503.4C774.1,504.3 776.6,505.1 779.2,506.0C781.7,506.8 784.3,507.5 786.8,508.3C789.4,509.0 792.0,509.7 794.5,510.4C797.1,511.1 799.7,511.7 802.3,512.3C804.9,512.9 807.5,513.4 810.1,513.9C812.8,514.4 815.4,514.9 818.0,515.3C820.7,515.7 823.3,516.1 825.9,516.4C828.6,516.8 831.2,517.1 833.9,517.5C836.5,517.8 839.2,518.1 841.8,518.4C844.5,518.7 847.1,519.0 849.8,519.2C852.4,519.5 855.1,519.7 857.8,519.9C860.4,520.0 863.1,520.2 865.7,520.2C868.4,520.2 871.1,520.1 873.7,519.9C876.4,519.7 879.0,519.4 881.7,519.0C884.3,518.7 886.9,518.2 889.5,517.7C892.2,517.2 894.8,516.6 897.3,515.9C899.9,515.2 902.4,514.4 905.0,513.6C907.5,512.7 910.0,511.8 912.5,510.9C915.0,510.0 917.5,509.0 920.0,508.1C922.5,507.1 925.0,506.1 927.4,505.1C929.9,504.1 932.4,503.1 934.8,502.1C937.3,501.1 939.8,500.1 942.3,499.1C944.8,498.2 947.3,497.3 949.8,496.4C952.3,495.6 954.8,494.7 957.4,493.9C959.9,493.2 962.5,492.4 965.1,491.7C967.6,491.0 970.2,490.4 972.8,489.7C975.4,489.1 978.0,488.6 980.6,488.1C983.3,487.6 985.9,487.1 988.5,486.7C991.2,486.3 993.8,485.9 996.4,485.6C999.1,485.2 1001.7,485.0 1004.4,484.7C1007.0,484.5 1009.7,484.3 1012.4,484.2C1015.0,484.0 1017.7,483.9 1020.4,483.8C1023.0,483.8 1025.7,483.7 1028.4,483.7C1031.0,483.7 1033.7,483.8 1036.4,483.8C1039.0,483.8 1041.7,483.8 1044.4,483.8C1047.0,483.7 1049.7,483.5 1052.3,483.4C1055.0,483.2 1057.7,483.0 1060.3,482.7C1063.0,482.4 1065.6,482.1 1068.2,481.7C1070.9,481.3 1073.5,480.8 1076.1,480.3C1078.7,479.7 1081.3,479.1 1083.9,478.5C1086.5,477.8 1089.1,477.1 1091.6,476.4C1094.2,475.7 1096.7,474.9 1099.3,474.1C1101.8,473.3 1104.3,472.4 1106.9,471.5C1109.4,470.6 1111.9,469.7 1114.4,468.8C1116.9,467.9 1119.4,467.0 1121.9,466.1C1124.4,465.2 1126.9,464.3 1129.4,463.4C1131.9,462.5 1134.4,461.5 1137.0,460.7C1139.5,459.8 1142.0,458.9 1144.6,458.2C1147.1,457.4 1149.7,456.6 1152.2,456.0C1154.8,455.3 1157.4,454.7 1160.0,454.2C1162.7,453.8 1165.3,453.4 1168.0,453.2C1170.6,453.1 1173.3,453.1 1175.9,453.3C1178.6,453.4 1181.2,453.8 1183.8,454.3C1186.4,454.7 1189.0,455.4 1191.6,456.1C1194.1,456.9 1196.7,457.8 1199.1,458.7C1201.6,459.7 1204.1,460.8 1206.5,461.9C1208.9,463.0 1211.3,464.2 1213.6,465.4C1216.0,466.7 1218.3,468.0 1220.6,469.3C1222.9,470.7 1225.2,472.1 1227.5,473.5C1229.7,474.9 1232.0,476.3 1234.2,477.7C1236.5,479.2 1238.7,480.7 1240.9,482.2C1243.1,483.7 1245.3,485.2 1247.5,486.7C1249.7,488.2 1251.9,489.8 1254.0,491.3C1256.2,492.9 1258.4,494.4 1260.5,496.0C1262.7,497.5 1264.9,499.1 1267.1,500.6C1269.3,502.1 1271.5,503.6 1273.7,505.1C1275.9,506.5 1278.2,508.0 1280.4,509.4C1282.7,510.7 1285.0,512.1 1287.4,513.3C1289.8,514.5 1292.2,515.7 1294.6,516.7C1297.1,517.7 1299.6,518.7 1302.1,519.5C1304.7,520.2 1307.2,520.9 1309.8,521.5C1312.4,522.0 1315.1,522.3 1317.7,522.6C1320.4,522.8 1323.1,522.9 1325.7,522.9C1328.4,522.9 1331.0,522.7 1333.7,522.5C1336.3,522.3 1339.0,521.9 1341.6,521.5C1344.3,521.1 1346.9,520.7 1349.5,520.2C1352.1,519.7 1354.7,519.2 1357.4,518.6C1360.0,518.1 1362.6,517.5 1365.2,517.1C1367.8,516.6 1370.5,516.2 1373.1,516.0C1375.7,515.8 1378.4,515.7 1381.0,515.8C1383.7,516.0 1386.3,516.5 1388.9,517.1C1391.5,517.7 1394.0,518.5 1396.5,519.4C1399.0,520.3 1401.5,521.4 1403.9,522.5C1406.3,523.7 1408.7,524.8 1411.0,526.2C1413.3,527.5 1415.5,528.9 1417.6,530.5C1419.7,532.2 1421.7,534.0 1423.5,535.9C1425.4,537.8 1427.1,539.8 1428.8,541.8C1430.5,543.9 1432.1,546.0 1433.7,548.2C1435.3,550.4 1436.7,552.6 1438.2,554.8C1439.7,557.0 1441.0,559.3 1442.4,561.6C1443.8,563.9 1445.1,566.2 1446.4,568.5C1447.7,570.9 1449.0,573.2 1450.2,575.6C1451.4,577.9 1452.6,580.3 1453.8,582.7C1454.9,585.1 1456.1,587.5 1457.2,590.0C1458.3,592.4 1459.4,594.8 1460.4,597.3C1461.5,599.7 1462.5,602.2 1463.5,604.7C1464.5,607.1 1465.5,609.6 1466.4,612.1C1467.4,614.6 1468.3,617.1 1469.2,619.6C1470.1,622.1 1470.9,624.7 1471.8,627.2C1472.6,629.7 1473.4,632.3 1474.2,634.8C1475.0,637.3 1475.8,639.9 1476.6,642.4C1477.4,645.0 1478.2,647.5 1479.0,650.1C1479.8,652.6 1480.6,655.2 1481.3,657.7C1482.1,660.3 1482.9,662.8 1483.6,665.4C1484.4,667.9 1485.1,670.5 1485.9,673.1C1486.6,675.6 1487.4,678.2 1488.1,680.7C1488.9,683.3 1489.6,685.9 1490.4,688.4C1491.1,691.0 1491.9,693.5 1492.6,696.1C1493.3,698.7 1494.1,701.2 1494.9,703.8C1495.6,706.3 1496.4,708.9 1497.1,711.5C1497.9,714.0 1498.6,716.6 1499.4,719.1C1500.1,721.7 1500.9,724.2 1501.6,726.8C1502.3,729.4 1503.1,731.9 1503.8,734.5C1504.5,737.1 1505.1,739.7 1505.8,742.2C1506.5,744.8 1507.1,747.4 1507.8,750.0C1508.4,752.6 1509.0,755.2 1509.7,757.8C1510.3,760.4 1510.9,763.0 1511.5,765.6C1512.1,768.2 1512.7,770.8 1513.3,773.3C1513.9,775.9 1514.5,778.5 1515.1,781.1C1515.7,783.7 1516.3,786.3 1516.9,788.9C1517.5,791.5 1518.1,794.1 1518.7,796.7C1519.3,799.3 1519.9,801.9 1520.5,804.5C1521.1,807.1 1521.7,809.7 1522.3,812.3C1522.9,814.9 1523.5,817.5 1524.1,820.1C1524.6,822.7 1525.2,825.3 1525.8,827.9C1526.4,830.5 1527.0,833.1 1527.6,835.7C1528.2,838.3 1528.8,840.9 1529.4,843.5C1530.0,846.1 1530.6,848.7 1531.2,851.3C1531.8,853.9 1532.4,856.5 1533.0,859.1C1533.6,861.7 1534.2,864.3 1534.8,866.9C1535.5,869.5 1536.1,872.1 1536.7,874.7C1537.3,877.3 1537.9,879.9 1538.6,882.5C1539.2,885.1 1539.8,887.7 1540.4,890.2C1541.1,892.8 1541.7,895.4 1542.3,898.0C1542.9,900.6 1543.5,903.2 1544.1,905.8C1544.8,908.4 1545.4,911.0 1546.0,913.6C1546.6,916.2 1547.2,918.8 1547.8,921.4C1548.4,924.0 1549.0,926.6 1549.6,929.2C1550.2,931.8 1550.9,934.4 1551.5,937.0C1552.1,939.6 1552.7,942.1 1553.3,944.7C1554.0,947.3 1554.6,949.9 1555.3,952.5C1555.9,955.1 1556.6,957.7 1557.2,960.3C1557.9,962.8 1558.6,965.4 1559.3,968.0C1559.9,970.6 1560.6,973.2 1561.3,975.7C1562.0,978.3 1562.7,980.9 1563.4,983.5C1564.1,986.0 1564.8,988.6 1565.5,991.2C1566.2,993.8 1566.9,996.3 1567.6,998.9C1568.3,1001.5 1568.9,1004.1 1569.6,1006.6C1570.3,1009.2 1571.0,1011.8 1571.7,1014.4C1572.4,1016.9 1573.0,1019.5 1573.7,1022.1C1574.4,1024.7 1575.1,1027.2 1575.8,1029.8C1576.5,1032.4 1577.2,1035.0 1578.0,1037.5C1578.7,1040.1 1579.4,1042.7 1580.2,1045.2C1580.9,1047.8 1581.7,1050.3 1582.4,1052.9C1583.2,1055.4 1584.0,1058.0 1584.8,1060.5C1585.6,1063.1 1586.4,1065.6 1587.2,1068.2C1588.0,1070.7 1588.8,1073.2 1589.6,1075.8C1590.5,1078.3 1591.3,1080.8 1592.1,1083.4C1593.0,1085.9 1593.8,1088.4 1594.7,1091.0C1595.6,1093.5 1596.5,1096.0 1597.4,1098.5C1598.3,1101.0 1599.2,1103.5 1600.1,1106.0C1601.0,1108.5 1602.0,1111.0 1602.9,1113.5C1603.9,1116.0 1604.9,1118.5 1605.9,1120.9C1606.8,1123.4 1607.8,1125.9 1608.9,1128.4C1609.9,1130.8 1610.9,1133.3 1611.9,1135.7C1613.0,1138.2 1614.1,1140.6 1615.2,1143.1C1616.3,1145.5 1617.4,1147.9 1618.5,1150.3C1619.7,1152.7 1620.8,1155.1 1622.0,1157.5C1623.2,1159.9 1624.4,1162.3 1625.7,1164.6C1626.9,1167.0 1628.2,1169.3 1629.5,1171.7C1630.8,1174.0 1632.1,1176.3 1633.4,1178.6C1634.8,1180.9 1636.2,1183.2 1637.5,1185.5C1638.9,1187.8 1640.3,1190.1 1641.6,1192.4C1643.0,1194.7 1644.3,1197.0 1645.7,1199.3C1647.0,1201.6 1648.3,1203.9 1649.7,1206.2C1651.1,1208.5 1652.5,1210.7 1653.9,1213.0C1655.3,1215.3 1656.7,1217.5 1658.2,1219.8C1659.6,1222.0 1661.1,1224.2 1662.6,1226.4C1664.1,1228.6 1665.7,1230.7 1667.3,1232.9C1668.9,1235.0 1670.6,1237.1 1672.3,1239.1C1674.0,1241.2 1675.8,1243.2 1677.6,1245.1C1679.4,1247.1 1681.2,1249.0 1683.1,1251.0C1684.9,1252.9 1686.8,1254.7 1688.7,1256.6C1690.7,1258.4 1692.6,1260.3 1694.6,1262.1C1696.5,1263.9 1698.5,1265.7 1700.5,1267.4C1702.6,1269.1 1704.6,1270.8 1706.8,1272.4C1708.9,1274.0 1711.1,1275.5 1713.3,1277.0C1715.6,1278.4 1717.8,1279.8 1720.1,1281.1C1722.4,1282.5 1724.8,1283.7 1727.2,1285.0C1729.5,1286.2 1731.9,1287.4 1734.3,1288.6C1736.7,1289.7 1739.1,1290.8 1741.6,1291.9C1744.0,1292.9 1746.5,1293.9 1749.0,1294.9C1751.5,1295.8 1754.0,1296.8 1756.5,1297.6C1759.0,1298.5 1761.6,1299.3 1764.1,1300.1C1766.7,1300.9 1769.2,1301.6 1771.8,1302.3C1774.4,1303.0 1777.0,1303.6 1779.6,1304.1C1782.2,1304.7 1784.8,1305.2 1787.4,1305.7C1790.0,1306.2 1792.7,1306.7 1795.3,1307.1C1797.9,1307.5 1800.6,1307.9 1803.2,1308.2C1805.9,1308.6 1808.5,1308.8 1811.2,1309.1C1813.8,1309.4 1816.5,1309.6 1819.1,1309.8C1821.8,1310.1 1824.4,1310.3 1827.1,1310.5C1829.8,1310.7 1832.5,1310.9 1835.1,1311.1C1837.6,1311.3 1840.4,1311.5 1842.5,1311.6C1844.5,1311.8 1845.1,1311.8 1847.2,1312.0C1849.4,1312.2 1853.9,1312.5 1855.2,1312.6" fill="none" stroke="#0000FF" stroke-width="9.3" stroke-linejoin="round" stroke-linecap="round" clip-path="url(#pa)"/>
<path d="M222.2,964.0C222.4,962.6 223.0,958.4 223.5,955.8C223.9,953.1 224.2,950.8 224.6,948.2C225.1,945.6 225.5,942.9 226.0,940.3C226.4,937.7 226.9,935.0 227.4,932.4C227.8,929.8 228.3,927.2 228.8,924.6C229.3,921.9 229.8,919.3 230.3,916.7C230.8,914.1 231.2,911.4 231.8,908.8C232.3,906.2 232.8,903.6 233.3,901.0C233.9,898.4 234.4,895.8 235.0,893.2C235.6,890.6 236.2,888.0 236.8,885.4C237.3,882.8 237.9,880.2 238.5,877.6C239.1,875.0 239.7,872.4 240.3,869.7C240.9,867.1 241.4,864.5 242.0,861.9C242.6,859.3 243.2,856.7 243.8,854.1C244.3,851.5 244.9,848.9 245.5,846.3C246.1,843.7 246.6,841.1 247.2,838.5C247.8,835.9 248.4,833.3 249.0,830.7C249.5,828.1 250.1,825.5 250.7,822.9C251.3,820.3 251.8,817.7 252.4,815.1C253.0,812.5 253.6,809.9 254.1,807.3C254.7,804.7 255.3,802.1 255.9,799.5C256.4,796.9 257.0,794.2 257.6,791.6C258.2,789.0 258.8,786.4 259.4,783.8C260.0,781.2 260.5,778.6 261.1,776.0C261.7,773.4 262.3,770.8 262.9,768.2C263.5,765.7 264.2,763.1 264.8,760.5C265.4,757.9 266.0,755.3 266.6,752.7C267.2,750.1 267.8,747.5 268.5,744.9C269.1,742.3 269.7,739.7 270.4,737.1C271.0,734.5 271.6,731.9 272.3,729.4C272.9,726.8 273.6,724.2 274.2,721.6C274.9,719.0 275.5,716.4 276.2,713.8C276.9,711.3 277.5,708.7 278.2,706.1C278.9,703.5 279.5,700.9 280.2,698.3C280.8,695.8 281.5,693.2 282.1,690.6C282.8,688.0 283.4,685.4 284.1,682.8C284.8,680.2 285.4,677.7 286.1,675.1C286.7,672.5 287.4,669.9 288.1,667.3C288.8,664.8 289.4,662.2 290.1,659.6C290.8,657.0 291.5,654.5 292.2,651.9C293.0,649.3 293.7,646.8 294.4,644.2C295.1,641.6 295.9,639.1 296.6,636.5C297.4,633.9 298.1,631.4 298.9,628.8C299.6,626.3 300.4,623.7 301.1,621.1C301.9,618.6 302.6,616.0 303.4,613.5C304.2,610.9 304.9,608.4 305.7,605.8C306.5,603.3 307.3,600.7 308.2,598.2C309.0,595.7 309.8,593.1 310.7,590.6C311.6,588.1 312.5,585.6 313.5,583.1C314.5,580.6 315.5,578.2 316.5,575.7C317.5,573.2 318.6,570.8 319.7,568.4C320.8,566.0 321.9,563.5 323.1,561.2C324.3,558.8 325.6,556.4 326.9,554.1C328.3,551.9 329.7,549.6 331.3,547.5C332.9,545.3 334.6,543.3 336.4,541.4C338.3,539.6 340.4,537.9 342.6,536.5C344.8,535.2 347.2,534.0 349.7,533.3C352.1,532.5 354.8,532.1 357.3,532.0C359.9,532.0 362.5,532.3 365.0,533.0C367.5,533.7 369.9,534.8 372.1,536.1C374.4,537.4 376.5,539.1 378.5,540.8C380.5,542.5 382.4,544.4 384.3,546.3C386.1,548.2 387.9,550.2 389.6,552.3C391.3,554.3 392.9,556.4 394.5,558.5C396.1,560.7 397.6,562.9 399.1,565.1C400.6,567.3 402.0,569.6 403.3,571.9C404.7,574.2 406.0,576.5 407.3,578.8C408.6,581.2 409.8,583.5 411.0,585.9C412.2,588.3 413.4,590.7 414.6,593.1C415.7,595.5 416.8,597.9 417.9,600.3C419.0,602.8 420.0,605.2 421.1,607.7C422.1,610.1 423.1,612.6 424.0,615.1C425.0,617.6 425.9,620.1 426.9,622.6C427.8,625.1 428.7,627.6 429.6,630.1C430.4,632.6 431.3,635.2 432.2,637.7C433.0,640.2 433.8,642.7 434.7,645.3C435.5,647.8 436.3,650.4 437.1,652.9C437.9,655.5 438.6,658.0 439.4,660.6C440.2,663.1 440.9,665.7 441.6,668.2C442.4,670.8 443.1,673.4 443.8,675.9C444.5,678.5 445.2,681.1 445.9,683.7C446.6,686.2 447.3,688.8 448.0,691.4C448.7,694.0 449.3,696.5 450.0,699.1C450.7,701.7 451.4,704.3 452.0,706.9C452.7,709.4 453.4,712.0 454.0,714.6C454.7,717.2 455.3,719.8 456.0,722.4C456.6,725.0 457.3,727.6 457.9,730.1C458.6,732.7 459.2,735.3 459.8,737.9C460.5,740.5 461.1,743.1 461.8,745.7C462.4,748.2 463.1,750.8 463.7,753.4C464.4,756.0 465.0,758.6 465.7,761.2C466.3,763.8 467.0,766.4 467.6,768.9C468.3,771.5 468.9,774.1 469.6,776.7C470.2,779.3 470.8,781.9 471.5,784.5C472.2,787.0 472.8,789.6 473.5,792.2C474.1,794.8 474.8,797.4 475.4,800.0C476.1,802.6 476.7,805.2 477.3,807.7C478.0,810.3 478.6,812.9 479.3,815.5C479.9,818.1 480.5,820.7 481.1,823.3C481.8,825.9 482.4,828.5 483.0,831.1C483.6,833.7 484.2,836.3 484.8,838.9C485.4,841.5 486.0,844.1 486.6,846.7C487.2,849.2 487.8,851.8 488.4,854.4C489.1,857.0 489.7,859.6 490.3,862.2C490.9,864.8 491.6,867.4 492.2,870.0C492.8,872.6 493.5,875.2 494.1,877.8C494.8,880.3 495.4,882.9 496.1,885.5C496.7,888.1 497.4,890.7 498.0,893.3C498.7,895.9 499.3,898.4 500.0,901.0C500.7,903.6 501.3,906.2 502.0,908.8C502.7,911.3 503.4,913.9 504.0,916.5C504.7,919.1 505.4,921.7 506.1,924.2C506.8,926.8 507.5,929.4 508.2,932.0C508.9,934.5 509.6,937.1 510.4,939.7C511.1,942.2 511.8,944.8 512.6,947.3C513.4,949.9 514.1,952.4 514.9,955.0C515.7,957.5 516.5,960.1 517.3,962.6C518.1,965.2 518.9,967.7 519.8,970.2C520.6,972.8 521.4,975.3 522.3,977.8C523.1,980.4 524.0,982.9 524.9,985.4C525.8,987.9 526.6,990.4 527.5,992.9C528.4,995.5 529.4,998.0 530.3,1000.5C531.2,1003.0 532.2,1005.4 533.2,1007.9C534.1,1010.4 535.1,1012.9 536.1,1015.4C537.1,1017.8 538.1,1020.3 539.2,1022.7C540.2,1025.2 541.3,1027.6 542.4,1030.1C543.5,1032.5 544.6,1034.9 545.8,1037.3C546.9,1039.7 548.1,1042.1 549.3,1044.5C550.6,1046.8 551.9,1049.2 553.2,1051.5C554.6,1053.8 556.0,1056.0 557.4,1058.2C558.9,1060.4 560.5,1062.6 562.2,1064.7C563.8,1066.7 565.6,1068.8 567.5,1070.6C569.4,1072.4 571.5,1074.1 573.7,1075.4C575.9,1076.8 578.3,1078.0 580.7,1078.8C583.2,1079.6 585.8,1080.1 588.3,1080.1C590.9,1080.2 593.5,1079.7 596.0,1079.1C598.5,1078.4 601.0,1077.3 603.3,1076.2C605.7,1075.0 608.0,1073.6 610.1,1072.1C612.3,1070.6 614.4,1068.9 616.5,1067.2C618.6,1065.6 620.5,1063.8 622.5,1062.0C624.4,1060.1 626.3,1058.2 628.1,1056.3C629.9,1054.4 631.7,1052.3 633.4,1050.3C635.1,1048.3 636.7,1046.1 638.3,1044.0C639.9,1041.9 641.5,1039.7 643.0,1037.5C644.5,1035.3 646.0,1033.1 647.5,1030.9C648.9,1028.6 650.3,1026.4 651.7,1024.1C653.1,1021.8 654.4,1019.5 655.8,1017.2C657.1,1014.9 658.4,1012.6 659.6,1010.2C660.9,1007.9 662.1,1005.5 663.4,1003.1C664.6,1000.8 665.8,998.4 667.0,996.0C668.2,993.6 669.4,991.2 670.5,988.8C671.7,986.4 672.8,984.0 674.0,981.6C675.1,979.2 676.2,976.8 677.4,974.4C678.5,972.0 679.7,969.6 680.8,967.2C682.0,964.8 683.2,962.4 684.4,960.0C685.6,957.6 686.8,955.2 688.0,952.9C689.2,950.5 690.5,948.1 691.7,945.8C693.0,943.4 694.2,941.1 695.5,938.7C696.8,936.4 698.1,934.1 699.4,931.7C700.6,929.4 701.9,927.0 703.2,924.7C704.5,922.4 705.8,920.0 707.0,917.7C708.3,915.3 709.5,913.0 710.8,910.6C712.0,908.2 713.2,905.9 714.5,903.5C715.7,901.1 716.9,898.8 718.1,896.4C719.3,894.0 720.5,891.6 721.7,889.2C722.9,886.8 724.0,884.4 725.2,882.0C726.4,879.7 727.5,877.3 728.7,874.9C729.9,872.5 731.1,870.1 732.2,867.7C733.4,865.3 734.5,862.9 735.6,860.4C736.8,858.0 737.9,855.6 739.0,853.2C740.1,850.7 741.2,848.3 742.3,845.9C743.4,843.4 744.5,841.0 745.6,838.6C746.7,836.2 747.8,833.8 749.0,831.4C750.1,828.9 751.3,826.5 752.4,824.1C753.6,821.7 754.7,819.3 755.9,816.9C757.0,814.5 758.2,812.1 759.3,809.7C760.4,807.3 761.6,804.9 762.7,802.5C763.9,800.0 765.0,797.6 766.2,795.2C767.3,792.8 768.5,790.4 769.6,788.0C770.7,785.6 771.9,783.2 773.0,780.8C774.2,778.4 775.3,776.0 776.5,773.6C777.6,771.1 778.8,768.7 779.9,766.3C781.1,763.9 782.2,761.5 783.4,759.1C784.6,756.7 785.8,754.3 786.9,752.0C788.1,749.6 789.3,747.2 790.5,744.8C791.7,742.4 792.9,740.1 794.1,737.7C795.4,735.3 796.6,732.9 797.8,730.6C799.0,728.2 800.3,725.8 801.5,723.5C802.8,721.1 804.0,718.8 805.3,716.4C806.6,714.1 807.8,711.7 809.1,709.4C810.4,707.1 811.7,704.7 813.0,702.4C814.3,700.1 815.6,697.8 817.0,695.4C818.3,693.1 819.6,690.8 820.9,688.5C822.3,686.2 823.6,683.9 824.9,681.6C826.3,679.3 827.6,677.0 828.9,674.6C830.3,672.3 831.6,670.0 832.9,667.7C834.3,665.4 835.6,663.1 836.9,660.8C838.3,658.5 839.6,656.2 840.9,653.9C842.3,651.6 843.6,649.2 844.9,646.9C846.2,644.6 847.6,642.3 848.9,640.0C850.2,637.7 851.5,635.4 852.9,633.0C854.2,630.7 855.5,628.4 856.8,626.1C858.2,623.8 859.6,621.5 860.9,619.2C862.3,617.0 863.7,614.7 865.2,612.4C866.6,610.2 868.0,607.9 869.5,605.7C870.9,603.5 872.4,601.2 873.8,599.0C875.3,596.8 876.8,594.5 878.3,592.3C879.7,590.1 881.2,587.9 882.7,585.7C884.2,583.5 885.7,581.3 887.3,579.1C888.8,576.9 890.3,574.7 891.8,572.5C893.3,570.3 894.9,568.2 896.4,566.0C897.9,563.8 899.5,561.6 901.0,559.4C902.6,557.3 904.1,555.1 905.7,552.9C907.3,550.8 908.8,548.6 910.5,546.5C912.1,544.4 913.7,542.3 915.4,540.2C917.0,538.1 918.7,536.0 920.4,534.0C922.1,531.9 923.8,529.9 925.5,527.8C927.3,525.8 929.0,523.8 930.8,521.8C932.6,519.8 934.4,517.9 936.2,515.9C938.0,514.0 939.9,512.1 941.7,510.2C943.6,508.3 945.5,506.4 947.4,504.5C949.4,502.7 951.3,500.9 953.3,499.1C955.3,497.4 957.3,495.6 959.4,494.0C961.5,492.3 963.6,490.7 965.8,489.1C968.0,487.6 970.2,486.1 972.4,484.7C974.7,483.3 977.0,481.9 979.3,480.7C981.7,479.4 984.0,478.2 986.5,477.1C988.9,476.0 991.4,475.0 993.9,474.2C996.4,473.3 999.0,472.6 1001.5,472.0C1004.1,471.5 1006.8,471.0 1009.4,470.7C1012.0,470.4 1014.7,470.2 1017.3,470.2C1020.0,470.2 1022.7,470.4 1025.3,470.7C1027.9,471.0 1030.5,471.5 1033.1,472.1C1035.7,472.7 1038.3,473.5 1040.8,474.4C1043.3,475.2 1045.7,476.2 1048.2,477.3C1050.6,478.4 1052.9,479.7 1055.2,481.0C1057.5,482.3 1059.8,483.8 1061.9,485.3C1064.1,486.9 1066.2,488.5 1068.3,490.2C1070.3,491.9 1072.3,493.6 1074.3,495.5C1076.2,497.3 1078.1,499.1 1080.0,501.1C1081.8,503.0 1083.6,504.9 1085.4,506.9C1087.1,508.9 1088.8,511.0 1090.5,513.1C1092.1,515.2 1093.7,517.3 1095.3,519.5C1096.8,521.7 1098.3,523.9 1099.8,526.1C1101.2,528.3 1102.6,530.6 1104.0,532.9C1105.4,535.2 1106.8,537.4 1108.1,539.7C1109.5,542.0 1110.8,544.4 1112.1,546.7C1113.4,549.0 1114.7,551.4 1115.9,553.7C1117.1,556.1 1118.3,558.5 1119.4,560.9C1120.6,563.3 1121.6,565.7 1122.7,568.2C1123.8,570.6 1124.8,573.1 1125.8,575.6C1126.8,578.0 1127.8,580.5 1128.7,583.0C1129.7,585.5 1130.6,588.0 1131.5,590.5C1132.4,593.0 1133.3,595.5 1134.2,598.0C1135.1,600.5 1136.0,603.1 1136.9,605.6C1137.8,608.1 1138.7,610.6 1139.6,613.1C1140.5,615.6 1141.4,618.1 1142.2,620.7C1143.1,623.2 1144.0,625.7 1144.9,628.2C1145.8,630.7 1146.6,633.3 1147.5,635.8C1148.4,638.3 1149.2,640.8 1150.1,643.3C1151.0,645.8 1151.9,648.3 1152.8,650.9C1153.7,653.4 1154.7,655.9 1155.6,658.4C1156.5,660.8 1157.5,663.3 1158.4,665.8C1159.4,668.3 1160.3,670.8 1161.2,673.3C1162.1,675.8 1163.0,678.4 1163.9,680.9C1164.8,683.4 1165.7,685.9 1166.5,688.4C1167.4,690.9 1168.3,693.5 1169.1,696.0C1170.0,698.5 1170.9,701.0 1171.7,703.6C1172.6,706.1 1173.5,708.6 1174.3,711.1C1175.2,713.7 1176.0,716.2 1176.9,718.7C1177.8,721.2 1178.6,723.7 1179.5,726.3C1180.4,728.8 1181.2,731.3 1182.1,733.8C1183.0,736.4 1183.8,738.9 1184.7,741.4C1185.6,743.9 1186.4,746.4 1187.3,749.0C1188.2,751.5 1189.0,754.0 1189.9,756.5C1190.8,759.0 1191.7,761.6 1192.5,764.1C1193.4,766.6 1194.3,769.1 1195.2,771.6C1196.0,774.2 1196.9,776.7 1197.8,779.2C1198.7,781.7 1199.6,784.2 1200.4,786.7C1201.3,789.3 1202.2,791.8 1203.1,794.3C1204.0,796.8 1204.9,799.3 1205.8,801.8C1206.7,804.3 1207.6,806.8 1208.5,809.3C1209.4,811.9 1210.3,814.4 1211.2,816.9C1212.1,819.4 1213.1,821.9 1214.0,824.4C1214.9,826.9 1215.8,829.4 1216.8,831.9C1217.7,834.4 1218.6,836.9 1219.6,839.4C1220.5,841.9 1221.4,844.4 1222.4,846.9C1223.3,849.4 1224.3,851.8 1225.3,854.3C1226.2,856.8 1227.2,859.3 1228.2,861.8C1229.2,864.3 1230.1,866.7 1231.1,869.2C1232.1,871.7 1233.1,874.2 1234.1,876.6C1235.1,879.1 1236.1,881.6 1237.1,884.1C1238.0,886.6 1239.0,889.0 1240.0,891.5C1241.0,894.0 1242.0,896.5 1243.0,898.9C1243.9,901.4 1244.9,903.9 1245.9,906.4C1246.9,908.9 1247.8,911.4 1248.8,913.8C1249.8,916.3 1250.7,918.8 1251.7,921.3C1252.6,923.8 1253.6,926.3 1254.5,928.8C1255.5,931.3 1256.4,933.8 1257.3,936.3C1258.3,938.8 1259.2,941.3 1260.1,943.8C1261.1,946.3 1262.0,948.8 1262.9,951.3C1263.9,953.8 1264.8,956.3 1265.7,958.8C1266.7,961.3 1267.6,963.7 1268.5,966.2C1269.5,968.7 1270.4,971.2 1271.3,973.7C1272.3,976.2 1273.2,978.7 1274.1,981.2C1275.0,983.7 1276.0,986.3 1276.9,988.7C1277.8,991.2 1278.8,993.7 1279.7,996.2C1280.7,998.7 1281.7,1001.2 1282.7,1003.7C1283.7,1006.1 1284.7,1008.6 1285.8,1011.0C1286.8,1013.5 1287.9,1015.9 1289.0,1018.4C1290.0,1020.8 1291.1,1023.3 1292.2,1025.7C1293.3,1028.1 1294.3,1030.6 1295.4,1033.0C1296.5,1035.5 1297.6,1037.9 1298.7,1040.3C1299.8,1042.8 1300.9,1045.2 1302.0,1047.6C1303.1,1050.0 1304.3,1052.4 1305.5,1054.8C1306.6,1057.2 1307.8,1059.6 1309.0,1062.0C1310.2,1064.4 1311.4,1066.7 1312.6,1069.1C1313.8,1071.5 1315.0,1073.9 1316.2,1076.2C1317.5,1078.6 1318.7,1081.0 1319.9,1083.4C1321.2,1085.7 1322.4,1088.1 1323.7,1090.4C1325.0,1092.8 1326.2,1095.1 1327.6,1097.4C1328.9,1099.7 1330.2,1102.0 1331.7,1104.3C1333.1,1106.5 1334.5,1108.8 1336.2,1110.9C1337.8,1113.0 1339.5,1115.0 1341.3,1116.9C1343.2,1118.8 1345.1,1120.6 1347.1,1122.4C1349.1,1124.2 1351.1,1125.9 1353.2,1127.6C1355.2,1129.3 1357.3,1131.0 1359.3,1132.7C1361.4,1134.4 1363.4,1136.1 1365.4,1137.9C1367.4,1139.7 1369.4,1141.5 1371.3,1143.3C1373.3,1145.1 1375.2,1147.0 1377.0,1148.9C1378.9,1150.8 1380.8,1152.7 1382.6,1154.6C1384.4,1156.6 1386.2,1158.5 1388.1,1160.5C1389.9,1162.4 1391.7,1164.4 1393.5,1166.4C1395.3,1168.3 1397.1,1170.3 1399.0,1172.2C1400.8,1174.1 1402.7,1176.0 1404.6,1177.9C1406.4,1179.8 1408.3,1181.7 1410.2,1183.5C1412.2,1185.4 1414.1,1187.2 1416.0,1189.1C1417.9,1190.9 1419.9,1192.7 1421.9,1194.5C1423.9,1196.3 1425.9,1198.1 1427.9,1199.8C1430.0,1201.5 1432.0,1203.1 1434.2,1204.7C1436.3,1206.4 1438.4,1207.9 1440.6,1209.5C1442.8,1211.0 1445.0,1212.6 1447.2,1214.1C1449.4,1215.6 1451.6,1217.1 1453.8,1218.5C1456.0,1219.9 1458.3,1221.4 1460.6,1222.8C1462.9,1224.1 1465.2,1225.5 1467.5,1226.8C1469.8,1228.1 1472.1,1229.4 1474.5,1230.7C1476.8,1231.9 1479.2,1233.1 1481.6,1234.3C1484.0,1235.5 1486.4,1236.7 1488.7,1238.0C1491.0,1239.3 1493.4,1240.6 1495.7,1241.9C1498.0,1243.3 1500.3,1244.6 1502.5,1246.0C1504.8,1247.5 1507.0,1248.9 1509.2,1250.4C1511.5,1251.8 1513.7,1253.3 1515.9,1254.8C1518.1,1256.3 1520.3,1257.8 1522.5,1259.3C1524.8,1260.8 1527.0,1262.2 1529.2,1263.7C1531.4,1265.2 1533.6,1266.7 1535.8,1268.2C1538.0,1269.7 1540.2,1271.2 1542.5,1272.6C1544.7,1274.1 1547.0,1275.5 1549.3,1276.8C1551.6,1278.1 1554.0,1279.4 1556.3,1280.5C1558.7,1281.7 1561.2,1282.8 1563.6,1283.8C1566.1,1284.8 1568.6,1285.8 1571.1,1286.6C1573.6,1287.4 1576.2,1288.1 1578.8,1288.6C1581.4,1289.2 1584.0,1289.6 1586.7,1290.0C1589.3,1290.4 1592.0,1290.6 1594.6,1290.9C1597.3,1291.1 1599.9,1291.3 1602.6,1291.5C1605.3,1291.6 1607.9,1291.7 1610.6,1291.8C1613.3,1291.9 1615.9,1291.9 1618.6,1291.9C1621.2,1291.9 1623.9,1291.9 1626.6,1291.8C1629.2,1291.7 1631.9,1291.6 1634.6,1291.5C1637.2,1291.4 1639.9,1291.3 1642.6,1291.2C1645.2,1291.0 1647.9,1290.9 1650.6,1290.8C1653.2,1290.7 1655.9,1290.5 1658.5,1290.4C1661.2,1290.4 1663.9,1290.3 1666.5,1290.2C1669.2,1290.2 1671.9,1290.1 1674.5,1290.1C1677.2,1290.1 1679.9,1290.1 1682.5,1290.1C1685.2,1290.0 1687.9,1290.0 1690.5,1290.0C1693.2,1290.0 1695.9,1290.0 1698.5,1290.0C1701.2,1290.0 1703.9,1290.0 1706.5,1290.0C1709.2,1290.0 1711.9,1290.0 1714.5,1290.0C1717.2,1289.9 1719.9,1289.9 1722.5,1289.9C1725.2,1289.9 1727.9,1289.9 1730.5,1290.0C1733.2,1290.0 1735.9,1290.0 1738.5,1290.0C1741.2,1290.0 1743.9,1290.1 1746.5,1290.1C1749.2,1290.1 1751.9,1290.2 1754.5,1290.2C1757.2,1290.3 1759.9,1290.3 1762.5,1290.4C1765.2,1290.5 1767.9,1290.5 1770.5,1290.6C1773.2,1290.7 1775.9,1290.8 1778.5,1290.9C1781.2,1291.0 1783.9,1291.1 1786.5,1291.2C1789.2,1291.3 1791.9,1291.5 1794.5,1291.6C1797.2,1291.8 1799.8,1291.9 1802.5,1292.1C1805.2,1292.3 1807.8,1292.4 1810.5,1292.6C1813.1,1292.8 1815.8,1293.0 1818.5,1293.2C1821.1,1293.4 1823.8,1293.6 1826.4,1293.8C1829.1,1294.0 1831.8,1294.3 1834.3,1294.5C1836.8,1294.7 1839.2,1295.0 1841.3,1295.2C1843.5,1295.4 1844.9,1295.5 1847.2,1295.8C1849.6,1296.0 1853.9,1296.4 1855.2,1296.5" fill="none" stroke="#8000FF" stroke-width="9.3" stroke-linejoin="round" stroke-linecap="round" clip-path="url(#pa)"/>
<line x1="1059.5" x2="1200.5" y1="81.7" y2="81.7" stroke="#000000" stroke-width="9.3" stroke-linecap="round"/>
<g transform="matrix(1 0 0 1.030 0 -3.105)">
<text x="1220" y="103.5" class="lg">P3HT:ICBA</text>
</g>
<line x1="1059.5" x2="1200.5" y1="168.6" y2="168.6" stroke="#FF8000" stroke-width="9.3" stroke-linecap="round"/>
<g transform="matrix(1 0 0 1.030 0 -5.727)">
<text x="1220" y="190.9" class="lg">P3HT:PC<tspan x="1516.7" dy="23.30">7</tspan><tspan x="1557.9">1</tspan><tspan x="1594.4" dy="-23.30">BM</tspan></text>
<path d="M1560.36,205.50h13.88v9.6h-13.88zM1583.74,205.50h13v9.6h-13z" fill="#fff"/>
</g>
<line x1="1059.5" x2="1200.5" y1="283.0" y2="283.0" stroke="#0000FF" stroke-width="9.3" stroke-linecap="round"/>
<g transform="matrix(1 0 0 1.030 0 -9.150)">
<text x="1220" y="305.0" class="lg">PTB7:PC<tspan x="1516.7" dy="23.30">7</tspan><tspan x="1557.9">1</tspan><tspan x="1594.4" dy="-23.30">BM</tspan></text>
<path d="M1560.36,319.60h13.88v9.6h-13.88zM1583.74,319.60h13v9.6h-13z" fill="#fff"/>
</g>
<line x1="1059.5" x2="1200.5" y1="396.3" y2="396.3" stroke="#8000FF" stroke-width="9.3" stroke-linecap="round"/>
<g transform="matrix(1 0 0 1.030 0 -12.546)">
<text x="1220" y="418.2" class="lg">PCDTBT:PC<tspan x="1621.2" dy="23.30">7</tspan><tspan x="1662.4">1</tspan><tspan x="1698.5" dy="-23.30">BM</tspan></text>
<path d="M1664.86,432.80h13.88v9.6h-13.88zM1688.24,432.80h13v9.6h-13z" fill="#fff"/>
</g>
<text x="398.7" y="1427" class="tk" text-anchor="middle" transform="matrix(1 0 0 1.03 0 -42.81)">400</text>
<text x="760.7" y="1427" class="tk" text-anchor="middle" transform="matrix(1 0 0 1.03 0 -42.81)">500</text>
<text x="1122.7" y="1427" class="tk" text-anchor="middle" transform="matrix(1 0 0 1.03 0 -42.81)">600</text>
<text x="1484.7" y="1427" class="tk" text-anchor="middle" transform="matrix(1 0 0 1.03 0 -42.81)">700</text>
<text x="1846.7" y="1427" class="tk" text-anchor="middle" transform="matrix(1 0 0 1.03 0 -42.81)">800</text>
<text x="661.3" y="1560.5" class="ax">Wavelength (nm)</text>
<text transform="translate(93.9,1127.4) rotate(-90)" class="ax" style="letter-spacing:0.3px">Absorbance (a.u.)</text>
</svg>
</body></html>
